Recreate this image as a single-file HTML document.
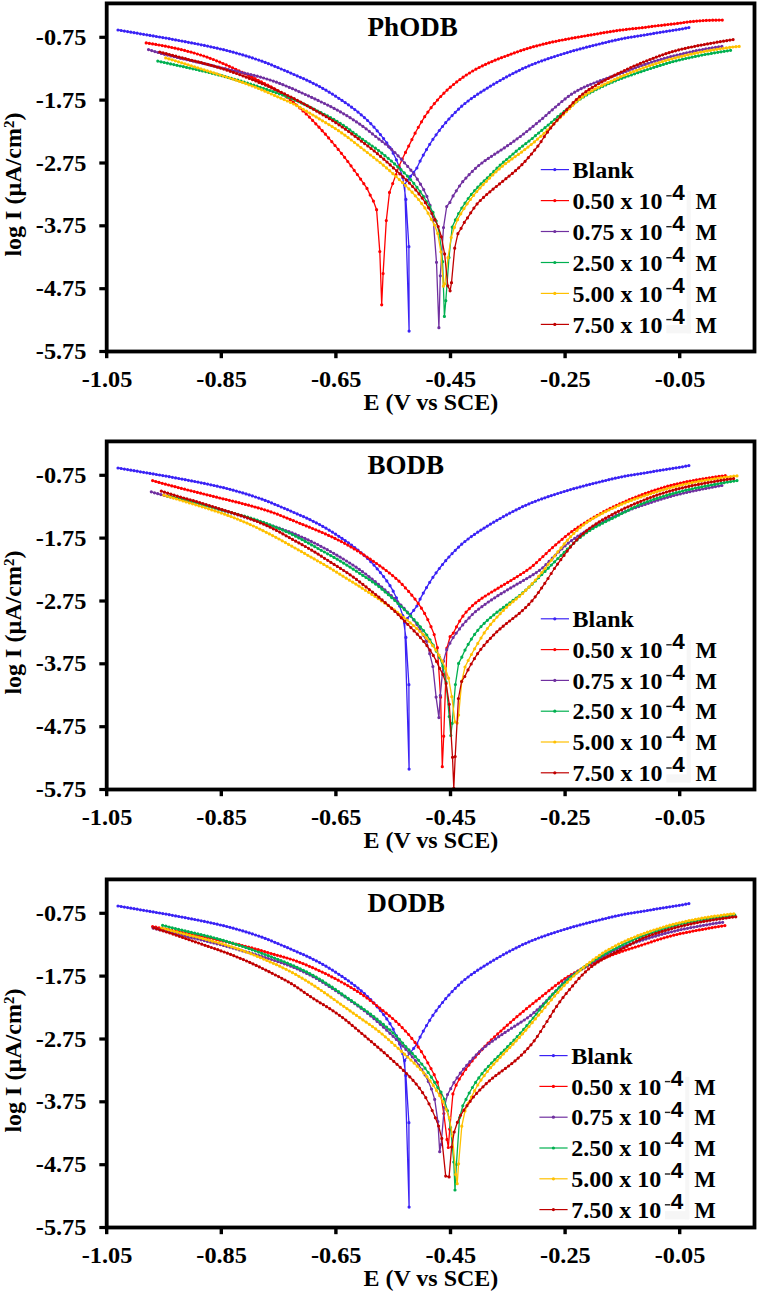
<!DOCTYPE html>
<html><head><meta charset="utf-8"><title>Tafel plots</title>
<style>
html,body{margin:0;padding:0;background:#fff;}
svg{display:block}
.t{font-family:"Liberation Serif",serif;font-weight:bold;font-size:24px;fill:#000}
.s{font-family:"Liberation Sans",sans-serif;font-weight:bold;font-size:22.5px;fill:#000}
</style></head><body>
<svg width="759" height="1293" viewBox="0 0 759 1293">
<rect width="759" height="1293" fill="#fff"/>
<polyline points="118.0,30.0 121.2,30.5 124.4,31.1 127.6,31.6 130.8,32.2 134.0,32.7 137.2,33.2 140.4,33.8 143.6,34.3 146.8,34.8 150.0,35.4 153.2,35.9 156.4,36.5 159.6,37.0 162.8,37.6 166.0,38.1 169.2,38.7 172.4,39.3 175.6,39.9 178.8,40.5 182.0,41.1 185.2,41.7 188.4,42.3 191.6,42.9 194.8,43.5 198.0,44.1 201.2,44.8 204.4,45.4 207.6,46.1 210.8,46.8 214.0,47.5 217.2,48.2 220.4,49.0 223.6,49.7 226.8,50.5 230.0,51.3 233.2,52.2 236.4,53.1 239.6,54.0 242.8,54.9 246.0,55.9 249.2,56.9 252.4,57.9 255.6,59.0 258.8,60.1 262.0,61.2 265.2,62.4 268.4,63.7 271.6,64.9 274.8,66.3 278.0,67.6 281.2,69.0 284.4,70.3 287.6,71.7 290.8,73.1 294.0,74.5 297.2,75.9 300.4,77.3 303.6,78.7 306.8,80.2 310.0,81.7 313.2,83.3 316.4,84.9 319.6,86.6 322.8,88.4 326.0,90.2 329.2,92.2 332.4,94.1 335.6,96.2 338.8,98.3 342.0,100.4 345.2,102.6 348.4,104.8 351.6,107.2 354.8,109.6 358.0,112.1 361.2,114.8 364.4,117.6 367.6,120.5 370.8,123.7 374.0,127.1 377.2,130.8 380.4,134.6 383.6,138.6 386.8,142.9 390.0,147.7 393.2,153.2 396.4,159.8 399.6,167.9 402.8,177.7 405.9,199.4 408.9,246.7 409.1,331.1 404.7,184.5 407.3,180.5 410.5,176.3 413.7,172.3 416.9,168.0 420.1,161.1 423.3,155.1 426.5,149.6 429.7,144.3 432.9,139.3 436.1,134.8 439.3,130.5 442.5,126.5 445.7,122.7 448.9,119.0 452.1,115.6 455.3,112.3 458.5,109.2 461.7,106.2 464.9,103.5 468.1,101.0 471.3,98.6 474.5,96.4 477.7,94.2 480.9,92.1 484.1,90.1 487.3,88.1 490.5,86.1 493.7,84.2 496.9,82.3 500.1,80.5 503.3,78.7 506.5,76.9 509.7,75.2 512.9,73.5 516.1,71.9 519.3,70.3 522.5,68.7 525.7,67.3 528.9,65.9 532.1,64.5 535.3,63.3 538.5,62.0 541.7,60.9 544.9,59.8 548.1,58.7 551.3,57.6 554.5,56.6 557.7,55.5 560.9,54.5 564.1,53.5 567.3,52.6 570.5,51.6 573.7,50.7 576.9,49.8 580.1,48.9 583.3,48.1 586.5,47.2 589.7,46.4 592.9,45.6 596.1,44.8 599.3,44.0 602.5,43.2 605.7,42.5 608.9,41.7 612.1,40.9 615.3,40.2 618.5,39.5 621.7,38.8 624.9,38.2 628.1,37.6 631.3,37.1 634.5,36.6 637.7,36.1 640.9,35.6 644.1,35.1 647.3,34.5 650.5,34.0 653.7,33.4 656.9,32.8 660.1,32.3 663.3,31.8 666.5,31.3 669.7,30.8 672.9,30.3 676.1,29.8 679.3,29.3 682.5,28.8 685.7,28.2 688.9,27.6" fill="none" stroke="#3a22f5" stroke-width="1.3" stroke-linejoin="round"/>
<path d="M118.0,30.0h0M121.2,30.5h0M124.4,31.1h0M127.6,31.6h0M130.8,32.2h0M134.0,32.7h0M137.2,33.2h0M140.4,33.8h0M143.6,34.3h0M146.8,34.8h0M150.0,35.4h0M153.2,35.9h0M156.4,36.5h0M159.6,37.0h0M162.8,37.6h0M166.0,38.1h0M169.2,38.7h0M172.4,39.3h0M175.6,39.9h0M178.8,40.5h0M182.0,41.1h0M185.2,41.7h0M188.4,42.3h0M191.6,42.9h0M194.8,43.5h0M198.0,44.1h0M201.2,44.8h0M204.4,45.4h0M207.6,46.1h0M210.8,46.8h0M214.0,47.5h0M217.2,48.2h0M220.4,49.0h0M223.6,49.7h0M226.8,50.5h0M230.0,51.3h0M233.2,52.2h0M236.4,53.1h0M239.6,54.0h0M242.8,54.9h0M246.0,55.9h0M249.2,56.9h0M252.4,57.9h0M255.6,59.0h0M258.8,60.1h0M262.0,61.2h0M265.2,62.4h0M268.4,63.7h0M271.6,64.9h0M274.8,66.3h0M278.0,67.6h0M281.2,69.0h0M284.4,70.3h0M287.6,71.7h0M290.8,73.1h0M294.0,74.5h0M297.2,75.9h0M300.4,77.3h0M303.6,78.7h0M306.8,80.2h0M310.0,81.7h0M313.2,83.3h0M316.4,84.9h0M319.6,86.6h0M322.8,88.4h0M326.0,90.2h0M329.2,92.2h0M332.4,94.1h0M335.6,96.2h0M338.8,98.3h0M342.0,100.4h0M345.2,102.6h0M348.4,104.8h0M351.6,107.2h0M354.8,109.6h0M358.0,112.1h0M361.2,114.8h0M364.4,117.6h0M367.6,120.5h0M370.8,123.7h0M374.0,127.1h0M377.2,130.8h0M380.4,134.6h0M383.6,138.6h0M386.8,142.9h0M390.0,147.7h0M393.2,153.2h0M396.4,159.8h0M399.6,167.9h0M402.8,177.7h0M405.9,199.4h0M408.9,246.7h0M409.1,331.1h0M404.7,184.5h0M407.3,180.5h0M410.5,176.3h0M413.7,172.3h0M416.9,168.0h0M420.1,161.1h0M423.3,155.1h0M426.5,149.6h0M429.7,144.3h0M432.9,139.3h0M436.1,134.8h0M439.3,130.5h0M442.5,126.5h0M445.7,122.7h0M448.9,119.0h0M452.1,115.6h0M455.3,112.3h0M458.5,109.2h0M461.7,106.2h0M464.9,103.5h0M468.1,101.0h0M471.3,98.6h0M474.5,96.4h0M477.7,94.2h0M480.9,92.1h0M484.1,90.1h0M487.3,88.1h0M490.5,86.1h0M493.7,84.2h0M496.9,82.3h0M500.1,80.5h0M503.3,78.7h0M506.5,76.9h0M509.7,75.2h0M512.9,73.5h0M516.1,71.9h0M519.3,70.3h0M522.5,68.7h0M525.7,67.3h0M528.9,65.9h0M532.1,64.5h0M535.3,63.3h0M538.5,62.0h0M541.7,60.9h0M544.9,59.8h0M548.1,58.7h0M551.3,57.6h0M554.5,56.6h0M557.7,55.5h0M560.9,54.5h0M564.1,53.5h0M567.3,52.6h0M570.5,51.6h0M573.7,50.7h0M576.9,49.8h0M580.1,48.9h0M583.3,48.1h0M586.5,47.2h0M589.7,46.4h0M592.9,45.6h0M596.1,44.8h0M599.3,44.0h0M602.5,43.2h0M605.7,42.5h0M608.9,41.7h0M612.1,40.9h0M615.3,40.2h0M618.5,39.5h0M621.7,38.8h0M624.9,38.2h0M628.1,37.6h0M631.3,37.1h0M634.5,36.6h0M637.7,36.1h0M640.9,35.6h0M644.1,35.1h0M647.3,34.5h0M650.5,34.0h0M653.7,33.4h0M656.9,32.8h0M660.1,32.3h0M663.3,31.8h0M666.5,31.3h0M669.7,30.8h0M672.9,30.3h0M676.1,29.8h0M679.3,29.3h0M682.5,28.8h0M685.7,28.2h0M688.9,27.6h0" stroke="#3a22f5" stroke-width="3.2" stroke-linecap="round" fill="none"/>
<polyline points="146.2,42.9 149.4,43.4 152.6,43.9 155.8,44.4 159.0,45.0 162.2,45.6 165.4,46.2 168.6,46.8 171.8,47.5 175.0,48.2 178.2,48.9 181.4,49.7 184.6,50.4 187.8,51.3 191.0,52.1 194.2,53.0 197.4,54.0 200.6,55.0 203.8,56.0 207.0,57.1 210.2,58.3 213.4,59.5 216.6,60.8 219.8,62.1 223.0,63.5 226.2,64.9 229.4,66.3 232.6,67.8 235.8,69.3 239.0,70.8 242.2,72.4 245.4,73.9 248.6,75.5 251.8,77.1 255.0,78.7 258.2,80.3 261.4,81.9 264.6,83.5 267.8,85.2 271.0,86.9 274.2,88.7 277.4,90.6 280.6,92.7 283.8,94.9 287.0,97.2 290.2,99.6 293.4,102.2 296.6,105.0 299.8,107.9 303.0,110.9 306.2,113.9 309.4,117.1 312.6,120.4 315.8,123.8 319.0,127.2 322.2,130.7 325.4,134.2 328.6,137.9 331.8,141.7 335.0,145.5 338.2,149.4 341.4,153.3 344.6,157.3 347.8,161.5 351.0,165.8 354.2,170.3 357.4,174.6 360.6,179.1 363.8,183.7 367.0,188.4 370.2,195.1 373.4,201.1 376.6,209.7 379.8,251.6 381.7,304.8 383.1,273.6 386.3,220.6 389.5,192.4 392.7,183.6 395.9,174.8 399.1,166.1 402.3,159.1 405.5,152.4 408.7,146.1 411.9,139.6 415.1,133.2 418.3,127.3 421.5,121.8 424.7,116.7 427.9,112.1 431.1,107.7 434.3,103.7 437.5,100.0 440.7,96.5 443.9,93.2 447.1,90.1 450.3,87.2 453.5,84.5 456.7,81.9 459.9,79.5 463.1,77.2 466.3,75.0 469.5,73.0 472.7,71.0 475.9,69.2 479.1,67.5 482.3,65.9 485.5,64.4 488.7,62.9 491.9,61.6 495.1,60.2 498.3,58.9 501.5,57.7 504.7,56.5 507.9,55.3 511.1,54.1 514.3,52.9 517.5,51.8 520.7,50.7 523.9,49.7 527.1,48.6 530.3,47.7 533.5,46.7 536.7,45.9 539.9,45.0 543.1,44.2 546.3,43.4 549.5,42.7 552.7,41.9 555.9,41.3 559.1,40.6 562.3,40.0 565.5,39.4 568.7,38.8 571.9,38.2 575.1,37.7 578.3,37.1 581.5,36.5 584.7,36.0 587.9,35.4 591.1,34.9 594.3,34.3 597.5,33.8 600.7,33.2 603.9,32.7 607.1,32.2 610.3,31.7 613.5,31.2 616.7,30.7 619.9,30.2 623.1,29.8 626.3,29.4 629.5,29.0 632.7,28.7 635.9,28.4 639.1,28.0 642.3,27.7 645.5,27.3 648.7,26.8 651.9,26.4 655.1,26.0 658.3,25.6 661.5,25.3 664.7,24.9 667.9,24.5 671.1,24.2 674.3,23.8 677.5,23.4 680.7,23.0 683.9,22.5 687.1,22.1 690.3,21.7 693.5,21.4 696.7,21.1 699.9,20.8 703.1,20.6 706.3,20.4 709.5,20.3 712.7,20.2 715.9,20.2 719.1,20.1 722.3,20.1" fill="none" stroke="#ff0000" stroke-width="1.3" stroke-linejoin="round"/>
<path d="M146.2,42.9h0M149.4,43.4h0M152.6,43.9h0M155.8,44.4h0M159.0,45.0h0M162.2,45.6h0M165.4,46.2h0M168.6,46.8h0M171.8,47.5h0M175.0,48.2h0M178.2,48.9h0M181.4,49.7h0M184.6,50.4h0M187.8,51.3h0M191.0,52.1h0M194.2,53.0h0M197.4,54.0h0M200.6,55.0h0M203.8,56.0h0M207.0,57.1h0M210.2,58.3h0M213.4,59.5h0M216.6,60.8h0M219.8,62.1h0M223.0,63.5h0M226.2,64.9h0M229.4,66.3h0M232.6,67.8h0M235.8,69.3h0M239.0,70.8h0M242.2,72.4h0M245.4,73.9h0M248.6,75.5h0M251.8,77.1h0M255.0,78.7h0M258.2,80.3h0M261.4,81.9h0M264.6,83.5h0M267.8,85.2h0M271.0,86.9h0M274.2,88.7h0M277.4,90.6h0M280.6,92.7h0M283.8,94.9h0M287.0,97.2h0M290.2,99.6h0M293.4,102.2h0M296.6,105.0h0M299.8,107.9h0M303.0,110.9h0M306.2,113.9h0M309.4,117.1h0M312.6,120.4h0M315.8,123.8h0M319.0,127.2h0M322.2,130.7h0M325.4,134.2h0M328.6,137.9h0M331.8,141.7h0M335.0,145.5h0M338.2,149.4h0M341.4,153.3h0M344.6,157.3h0M347.8,161.5h0M351.0,165.8h0M354.2,170.3h0M357.4,174.6h0M360.6,179.1h0M363.8,183.7h0M367.0,188.4h0M370.2,195.1h0M373.4,201.1h0M376.6,209.7h0M379.8,251.6h0M381.7,304.8h0M383.1,273.6h0M386.3,220.6h0M389.5,192.4h0M392.7,183.6h0M395.9,174.8h0M399.1,166.1h0M402.3,159.1h0M405.5,152.4h0M408.7,146.1h0M411.9,139.6h0M415.1,133.2h0M418.3,127.3h0M421.5,121.8h0M424.7,116.7h0M427.9,112.1h0M431.1,107.7h0M434.3,103.7h0M437.5,100.0h0M440.7,96.5h0M443.9,93.2h0M447.1,90.1h0M450.3,87.2h0M453.5,84.5h0M456.7,81.9h0M459.9,79.5h0M463.1,77.2h0M466.3,75.0h0M469.5,73.0h0M472.7,71.0h0M475.9,69.2h0M479.1,67.5h0M482.3,65.9h0M485.5,64.4h0M488.7,62.9h0M491.9,61.6h0M495.1,60.2h0M498.3,58.9h0M501.5,57.7h0M504.7,56.5h0M507.9,55.3h0M511.1,54.1h0M514.3,52.9h0M517.5,51.8h0M520.7,50.7h0M523.9,49.7h0M527.1,48.6h0M530.3,47.7h0M533.5,46.7h0M536.7,45.9h0M539.9,45.0h0M543.1,44.2h0M546.3,43.4h0M549.5,42.7h0M552.7,41.9h0M555.9,41.3h0M559.1,40.6h0M562.3,40.0h0M565.5,39.4h0M568.7,38.8h0M571.9,38.2h0M575.1,37.7h0M578.3,37.1h0M581.5,36.5h0M584.7,36.0h0M587.9,35.4h0M591.1,34.9h0M594.3,34.3h0M597.5,33.8h0M600.7,33.2h0M603.9,32.7h0M607.1,32.2h0M610.3,31.7h0M613.5,31.2h0M616.7,30.7h0M619.9,30.2h0M623.1,29.8h0M626.3,29.4h0M629.5,29.0h0M632.7,28.7h0M635.9,28.4h0M639.1,28.0h0M642.3,27.7h0M645.5,27.3h0M648.7,26.8h0M651.9,26.4h0M655.1,26.0h0M658.3,25.6h0M661.5,25.3h0M664.7,24.9h0M667.9,24.5h0M671.1,24.2h0M674.3,23.8h0M677.5,23.4h0M680.7,23.0h0M683.9,22.5h0M687.1,22.1h0M690.3,21.7h0M693.5,21.4h0M696.7,21.1h0M699.9,20.8h0M703.1,20.6h0M706.3,20.4h0M709.5,20.3h0M712.7,20.2h0M715.9,20.2h0M719.1,20.1h0M722.3,20.1h0" stroke="#ff0000" stroke-width="3.2" stroke-linecap="round" fill="none"/>
<polyline points="148.5,49.6 151.7,50.6 154.9,51.6 158.1,52.5 161.3,53.4 164.5,54.3 167.7,55.1 170.9,55.9 174.1,56.7 177.3,57.5 180.5,58.3 183.7,59.0 186.9,59.7 190.1,60.5 193.3,61.2 196.5,61.9 199.7,62.6 202.9,63.4 206.1,64.1 209.3,64.9 212.5,65.7 215.7,66.5 218.9,67.2 222.1,68.0 225.3,68.7 228.5,69.5 231.7,70.2 234.9,70.9 238.1,71.6 241.3,72.3 244.5,73.1 247.7,73.8 250.9,74.6 254.1,75.4 257.3,76.2 260.5,77.1 263.7,78.0 266.9,79.0 270.1,80.0 273.3,81.1 276.5,82.2 279.7,83.4 282.9,84.7 286.1,86.0 289.3,87.4 292.5,88.7 295.7,90.1 298.9,91.6 302.1,93.0 305.3,94.5 308.5,95.9 311.7,97.4 314.9,98.9 318.1,100.4 321.3,102.0 324.5,103.5 327.7,105.1 330.9,106.7 334.1,108.4 337.3,110.1 340.5,111.9 343.7,113.8 346.9,115.7 350.1,117.7 353.3,119.8 356.5,121.9 359.7,124.1 362.9,126.4 366.1,128.8 369.3,131.3 372.5,133.9 375.7,136.5 378.9,139.1 382.1,141.5 385.3,144.0 388.5,146.6 391.7,149.4 394.9,152.5 398.1,155.8 401.3,159.2 404.5,162.8 407.7,166.4 410.9,170.2 414.1,174.4 417.3,179.2 420.5,184.2 423.7,189.7 426.9,196.4 430.1,205.3 433.3,220.5 436.5,262.3 438.9,327.7 440.3,275.8 443.5,227.6 446.7,206.5 449.9,202.4 453.1,195.9 456.3,190.8 459.5,186.0 462.7,181.7 465.9,178.1 469.1,174.7 472.3,171.4 475.5,168.3 478.7,165.5 481.9,163.0 485.1,160.6 488.3,158.4 491.5,156.3 494.7,154.2 497.9,152.1 501.1,150.0 504.3,147.9 507.5,145.7 510.7,143.5 513.9,141.2 517.1,138.8 520.3,136.5 523.5,134.0 526.7,131.5 529.9,128.9 533.1,126.3 536.3,123.7 539.5,121.0 542.7,118.3 545.9,115.5 549.1,112.6 552.3,109.8 555.5,107.0 558.7,104.3 561.9,101.5 565.1,98.9 568.3,96.4 571.5,94.2 574.7,92.2 577.9,90.3 581.1,88.7 584.3,87.1 587.5,85.7 590.7,84.3 593.9,83.0 597.1,81.8 600.3,80.6 603.5,79.5 606.7,78.3 609.9,77.2 613.1,76.1 616.3,75.0 619.5,73.8 622.7,72.7 625.9,71.5 629.1,70.3 632.3,69.1 635.5,67.9 638.7,66.6 641.9,65.5 645.1,64.4 648.3,63.3 651.5,62.2 654.7,61.2 657.9,60.3 661.1,59.3 664.3,58.4 667.5,57.5 670.7,56.7 673.9,55.9 677.1,55.1 680.3,54.3 683.5,53.5 686.7,52.8 689.9,52.1 693.1,51.4 696.3,50.7 699.5,50.1 702.7,49.5 705.9,48.9 709.1,48.3 712.3,47.8 715.5,47.3 718.7,46.8 721.9,46.3" fill="none" stroke="#7030a0" stroke-width="1.3" stroke-linejoin="round"/>
<path d="M148.5,49.6h0M151.7,50.6h0M154.9,51.6h0M158.1,52.5h0M161.3,53.4h0M164.5,54.3h0M167.7,55.1h0M170.9,55.9h0M174.1,56.7h0M177.3,57.5h0M180.5,58.3h0M183.7,59.0h0M186.9,59.7h0M190.1,60.5h0M193.3,61.2h0M196.5,61.9h0M199.7,62.6h0M202.9,63.4h0M206.1,64.1h0M209.3,64.9h0M212.5,65.7h0M215.7,66.5h0M218.9,67.2h0M222.1,68.0h0M225.3,68.7h0M228.5,69.5h0M231.7,70.2h0M234.9,70.9h0M238.1,71.6h0M241.3,72.3h0M244.5,73.1h0M247.7,73.8h0M250.9,74.6h0M254.1,75.4h0M257.3,76.2h0M260.5,77.1h0M263.7,78.0h0M266.9,79.0h0M270.1,80.0h0M273.3,81.1h0M276.5,82.2h0M279.7,83.4h0M282.9,84.7h0M286.1,86.0h0M289.3,87.4h0M292.5,88.7h0M295.7,90.1h0M298.9,91.6h0M302.1,93.0h0M305.3,94.5h0M308.5,95.9h0M311.7,97.4h0M314.9,98.9h0M318.1,100.4h0M321.3,102.0h0M324.5,103.5h0M327.7,105.1h0M330.9,106.7h0M334.1,108.4h0M337.3,110.1h0M340.5,111.9h0M343.7,113.8h0M346.9,115.7h0M350.1,117.7h0M353.3,119.8h0M356.5,121.9h0M359.7,124.1h0M362.9,126.4h0M366.1,128.8h0M369.3,131.3h0M372.5,133.9h0M375.7,136.5h0M378.9,139.1h0M382.1,141.5h0M385.3,144.0h0M388.5,146.6h0M391.7,149.4h0M394.9,152.5h0M398.1,155.8h0M401.3,159.2h0M404.5,162.8h0M407.7,166.4h0M410.9,170.2h0M414.1,174.4h0M417.3,179.2h0M420.5,184.2h0M423.7,189.7h0M426.9,196.4h0M430.1,205.3h0M433.3,220.5h0M436.5,262.3h0M438.9,327.7h0M440.3,275.8h0M443.5,227.6h0M446.7,206.5h0M449.9,202.4h0M453.1,195.9h0M456.3,190.8h0M459.5,186.0h0M462.7,181.7h0M465.9,178.1h0M469.1,174.7h0M472.3,171.4h0M475.5,168.3h0M478.7,165.5h0M481.9,163.0h0M485.1,160.6h0M488.3,158.4h0M491.5,156.3h0M494.7,154.2h0M497.9,152.1h0M501.1,150.0h0M504.3,147.9h0M507.5,145.7h0M510.7,143.5h0M513.9,141.2h0M517.1,138.8h0M520.3,136.5h0M523.5,134.0h0M526.7,131.5h0M529.9,128.9h0M533.1,126.3h0M536.3,123.7h0M539.5,121.0h0M542.7,118.3h0M545.9,115.5h0M549.1,112.6h0M552.3,109.8h0M555.5,107.0h0M558.7,104.3h0M561.9,101.5h0M565.1,98.9h0M568.3,96.4h0M571.5,94.2h0M574.7,92.2h0M577.9,90.3h0M581.1,88.7h0M584.3,87.1h0M587.5,85.7h0M590.7,84.3h0M593.9,83.0h0M597.1,81.8h0M600.3,80.6h0M603.5,79.5h0M606.7,78.3h0M609.9,77.2h0M613.1,76.1h0M616.3,75.0h0M619.5,73.8h0M622.7,72.7h0M625.9,71.5h0M629.1,70.3h0M632.3,69.1h0M635.5,67.9h0M638.7,66.6h0M641.9,65.5h0M645.1,64.4h0M648.3,63.3h0M651.5,62.2h0M654.7,61.2h0M657.9,60.3h0M661.1,59.3h0M664.3,58.4h0M667.5,57.5h0M670.7,56.7h0M673.9,55.9h0M677.1,55.1h0M680.3,54.3h0M683.5,53.5h0M686.7,52.8h0M689.9,52.1h0M693.1,51.4h0M696.3,50.7h0M699.5,50.1h0M702.7,49.5h0M705.9,48.9h0M709.1,48.3h0M712.3,47.8h0M715.5,47.3h0M718.7,46.8h0M721.9,46.3h0" stroke="#7030a0" stroke-width="3.2" stroke-linecap="round" fill="none"/>
<polyline points="157.8,61.1 161.0,61.8 164.2,62.5 167.4,63.2 170.6,63.9 173.8,64.6 177.0,65.3 180.2,66.0 183.4,66.7 186.6,67.4 189.8,68.1 193.0,68.8 196.2,69.5 199.4,70.3 202.6,71.0 205.8,71.7 209.0,72.5 212.2,73.3 215.4,74.1 218.6,74.9 221.8,75.7 225.0,76.6 228.2,77.5 231.4,78.4 234.6,79.3 237.8,80.2 241.0,81.2 244.2,82.2 247.4,83.2 250.6,84.2 253.8,85.2 257.0,86.2 260.2,87.3 263.4,88.3 266.6,89.4 269.8,90.5 273.0,91.6 276.2,92.7 279.4,93.8 282.6,95.0 285.8,96.2 289.0,97.5 292.2,98.8 295.4,100.2 298.6,101.6 301.8,103.1 305.0,104.6 308.2,106.2 311.4,107.8 314.6,109.4 317.8,111.0 321.0,112.6 324.2,114.3 327.4,115.9 330.6,117.7 333.8,119.4 337.0,121.3 340.2,123.3 343.4,125.4 346.6,127.6 349.8,129.9 353.0,132.3 356.2,134.7 359.4,137.0 362.6,139.3 365.8,141.6 369.0,143.8 372.2,146.0 375.4,148.2 378.6,150.6 381.8,153.1 385.0,155.7 388.2,158.3 391.4,161.0 394.6,163.9 397.8,166.8 401.0,169.7 404.2,172.8 407.4,176.1 410.6,179.6 413.8,183.3 417.0,187.3 420.2,191.6 423.4,196.4 426.6,201.5 429.8,206.7 433.0,212.4 436.2,221.0 439.4,233.8 442.6,261.7 444.4,316.4 445.8,300.7 449.0,257.5 452.2,227.1 455.4,219.9 458.6,213.5 461.8,208.0 465.0,203.1 468.2,198.5 471.4,194.4 474.6,190.7 477.8,187.2 481.0,183.9 484.2,180.8 487.4,177.8 490.6,174.7 493.8,171.4 497.0,168.1 500.2,165.1 503.4,162.2 506.6,159.5 509.8,156.8 513.0,154.0 516.2,151.2 519.4,148.6 522.6,146.1 525.8,143.6 529.0,141.1 532.2,138.5 535.4,135.7 538.6,133.0 541.8,130.3 545.0,127.7 548.2,125.0 551.4,122.3 554.6,119.5 557.8,116.7 561.0,114.1 564.2,111.4 567.4,108.9 570.6,106.3 573.8,103.7 577.0,101.3 580.2,99.0 583.4,96.9 586.6,94.9 589.8,93.0 593.0,91.3 596.2,89.6 599.4,88.0 602.6,86.5 605.8,85.0 609.0,83.5 612.2,82.2 615.4,80.8 618.6,79.5 621.8,78.3 625.0,77.1 628.2,76.0 631.4,74.9 634.6,73.8 637.8,72.7 641.0,71.7 644.2,70.6 647.4,69.5 650.6,68.5 653.8,67.4 657.0,66.4 660.2,65.4 663.4,64.4 666.6,63.4 669.8,62.5 673.0,61.6 676.2,60.8 679.4,60.0 682.6,59.2 685.8,58.5 689.0,57.8 692.2,57.1 695.4,56.4 698.6,55.8 701.8,55.1 705.0,54.5 708.2,54.0 711.4,53.4 714.6,52.8 717.8,52.3 721.0,51.8 724.2,51.3 727.4,50.8 730.6,50.3" fill="none" stroke="#00b050" stroke-width="1.3" stroke-linejoin="round"/>
<path d="M157.8,61.1h0M161.0,61.8h0M164.2,62.5h0M167.4,63.2h0M170.6,63.9h0M173.8,64.6h0M177.0,65.3h0M180.2,66.0h0M183.4,66.7h0M186.6,67.4h0M189.8,68.1h0M193.0,68.8h0M196.2,69.5h0M199.4,70.3h0M202.6,71.0h0M205.8,71.7h0M209.0,72.5h0M212.2,73.3h0M215.4,74.1h0M218.6,74.9h0M221.8,75.7h0M225.0,76.6h0M228.2,77.5h0M231.4,78.4h0M234.6,79.3h0M237.8,80.2h0M241.0,81.2h0M244.2,82.2h0M247.4,83.2h0M250.6,84.2h0M253.8,85.2h0M257.0,86.2h0M260.2,87.3h0M263.4,88.3h0M266.6,89.4h0M269.8,90.5h0M273.0,91.6h0M276.2,92.7h0M279.4,93.8h0M282.6,95.0h0M285.8,96.2h0M289.0,97.5h0M292.2,98.8h0M295.4,100.2h0M298.6,101.6h0M301.8,103.1h0M305.0,104.6h0M308.2,106.2h0M311.4,107.8h0M314.6,109.4h0M317.8,111.0h0M321.0,112.6h0M324.2,114.3h0M327.4,115.9h0M330.6,117.7h0M333.8,119.4h0M337.0,121.3h0M340.2,123.3h0M343.4,125.4h0M346.6,127.6h0M349.8,129.9h0M353.0,132.3h0M356.2,134.7h0M359.4,137.0h0M362.6,139.3h0M365.8,141.6h0M369.0,143.8h0M372.2,146.0h0M375.4,148.2h0M378.6,150.6h0M381.8,153.1h0M385.0,155.7h0M388.2,158.3h0M391.4,161.0h0M394.6,163.9h0M397.8,166.8h0M401.0,169.7h0M404.2,172.8h0M407.4,176.1h0M410.6,179.6h0M413.8,183.3h0M417.0,187.3h0M420.2,191.6h0M423.4,196.4h0M426.6,201.5h0M429.8,206.7h0M433.0,212.4h0M436.2,221.0h0M439.4,233.8h0M442.6,261.7h0M444.4,316.4h0M445.8,300.7h0M449.0,257.5h0M452.2,227.1h0M455.4,219.9h0M458.6,213.5h0M461.8,208.0h0M465.0,203.1h0M468.2,198.5h0M471.4,194.4h0M474.6,190.7h0M477.8,187.2h0M481.0,183.9h0M484.2,180.8h0M487.4,177.8h0M490.6,174.7h0M493.8,171.4h0M497.0,168.1h0M500.2,165.1h0M503.4,162.2h0M506.6,159.5h0M509.8,156.8h0M513.0,154.0h0M516.2,151.2h0M519.4,148.6h0M522.6,146.1h0M525.8,143.6h0M529.0,141.1h0M532.2,138.5h0M535.4,135.7h0M538.6,133.0h0M541.8,130.3h0M545.0,127.7h0M548.2,125.0h0M551.4,122.3h0M554.6,119.5h0M557.8,116.7h0M561.0,114.1h0M564.2,111.4h0M567.4,108.9h0M570.6,106.3h0M573.8,103.7h0M577.0,101.3h0M580.2,99.0h0M583.4,96.9h0M586.6,94.9h0M589.8,93.0h0M593.0,91.3h0M596.2,89.6h0M599.4,88.0h0M602.6,86.5h0M605.8,85.0h0M609.0,83.5h0M612.2,82.2h0M615.4,80.8h0M618.6,79.5h0M621.8,78.3h0M625.0,77.1h0M628.2,76.0h0M631.4,74.9h0M634.6,73.8h0M637.8,72.7h0M641.0,71.7h0M644.2,70.6h0M647.4,69.5h0M650.6,68.5h0M653.8,67.4h0M657.0,66.4h0M660.2,65.4h0M663.4,64.4h0M666.6,63.4h0M669.8,62.5h0M673.0,61.6h0M676.2,60.8h0M679.4,60.0h0M682.6,59.2h0M685.8,58.5h0M689.0,57.8h0M692.2,57.1h0M695.4,56.4h0M698.6,55.8h0M701.8,55.1h0M705.0,54.5h0M708.2,54.0h0M711.4,53.4h0M714.6,52.8h0M717.8,52.3h0M721.0,51.8h0M724.2,51.3h0M727.4,50.8h0M730.6,50.3h0" stroke="#00b050" stroke-width="3.2" stroke-linecap="round" fill="none"/>
<polyline points="165.7,57.9 168.9,58.9 172.1,59.8 175.3,60.8 178.5,61.8 181.7,62.8 184.9,63.8 188.1,64.8 191.3,65.8 194.5,66.8 197.7,67.8 200.9,68.8 204.1,69.9 207.3,70.9 210.5,71.9 213.7,72.9 216.9,73.9 220.1,75.0 223.3,76.0 226.5,77.0 229.7,78.0 232.9,79.1 236.1,80.2 239.3,81.3 242.5,82.4 245.7,83.6 248.9,84.8 252.1,86.0 255.3,87.2 258.5,88.5 261.7,89.8 264.9,91.2 268.1,92.6 271.3,94.0 274.5,95.4 277.7,96.8 280.9,98.2 284.1,99.6 287.3,101.0 290.5,102.5 293.7,104.0 296.9,105.7 300.1,107.4 303.3,109.3 306.5,111.2 309.7,113.1 312.9,115.0 316.1,116.9 319.3,118.9 322.5,120.8 325.7,122.7 328.9,124.6 332.1,126.6 335.3,128.6 338.5,130.7 341.7,132.9 344.9,135.2 348.1,137.6 351.3,140.0 354.5,142.5 357.7,145.0 360.9,147.5 364.1,150.0 367.3,152.5 370.5,155.0 373.7,157.4 376.9,160.0 380.1,162.5 383.3,165.2 386.5,167.9 389.7,170.7 392.9,173.7 396.1,176.6 399.3,179.6 402.5,182.6 405.7,185.7 408.9,188.9 412.1,192.2 415.3,195.8 418.5,199.5 421.7,203.6 424.9,207.9 428.1,213.2 431.3,219.3 434.5,225.0 437.7,233.5 440.9,251.8 443.4,286.2 444.8,283.8 448.0,257.7 451.2,237.5 454.4,227.4 457.6,219.7 460.8,213.8 464.0,208.6 467.2,203.8 470.4,199.5 473.6,195.4 476.8,191.6 480.0,188.0 483.2,184.6 486.4,181.3 489.6,178.1 492.8,174.9 496.0,171.8 499.2,168.9 502.4,166.2 505.6,163.6 508.8,161.2 512.0,158.9 515.2,156.6 518.4,154.4 521.6,152.1 524.8,149.6 528.0,147.1 531.2,144.5 534.4,141.9 537.6,139.1 540.8,136.3 544.0,133.3 547.2,130.2 550.4,127.0 553.6,123.9 556.8,120.8 560.0,117.7 563.2,114.7 566.4,111.6 569.6,108.6 572.8,105.3 576.0,102.1 579.2,99.3 582.4,96.9 585.6,94.6 588.8,92.6 592.0,90.7 595.2,88.9 598.4,87.3 601.6,85.7 604.8,84.1 608.0,82.6 611.2,81.1 614.4,79.6 617.6,78.1 620.8,76.7 624.0,75.3 627.2,74.0 630.4,72.7 633.6,71.5 636.8,70.3 640.0,69.1 643.2,67.9 646.4,66.8 649.6,65.7 652.8,64.7 656.0,63.6 659.2,62.6 662.4,61.6 665.6,60.6 668.8,59.7 672.0,58.8 675.2,57.9 678.4,57.1 681.6,56.3 684.8,55.6 688.0,54.8 691.2,54.1 694.4,53.4 697.6,52.8 700.8,52.1 704.0,51.5 707.2,50.9 710.4,50.4 713.6,49.8 716.8,49.3 720.0,48.8 723.2,48.3 726.4,47.9 729.6,47.4 732.8,47.0 736.0,46.7 739.2,46.4" fill="none" stroke="#ffc000" stroke-width="1.3" stroke-linejoin="round"/>
<path d="M165.7,57.9h0M168.9,58.9h0M172.1,59.8h0M175.3,60.8h0M178.5,61.8h0M181.7,62.8h0M184.9,63.8h0M188.1,64.8h0M191.3,65.8h0M194.5,66.8h0M197.7,67.8h0M200.9,68.8h0M204.1,69.9h0M207.3,70.9h0M210.5,71.9h0M213.7,72.9h0M216.9,73.9h0M220.1,75.0h0M223.3,76.0h0M226.5,77.0h0M229.7,78.0h0M232.9,79.1h0M236.1,80.2h0M239.3,81.3h0M242.5,82.4h0M245.7,83.6h0M248.9,84.8h0M252.1,86.0h0M255.3,87.2h0M258.5,88.5h0M261.7,89.8h0M264.9,91.2h0M268.1,92.6h0M271.3,94.0h0M274.5,95.4h0M277.7,96.8h0M280.9,98.2h0M284.1,99.6h0M287.3,101.0h0M290.5,102.5h0M293.7,104.0h0M296.9,105.7h0M300.1,107.4h0M303.3,109.3h0M306.5,111.2h0M309.7,113.1h0M312.9,115.0h0M316.1,116.9h0M319.3,118.9h0M322.5,120.8h0M325.7,122.7h0M328.9,124.6h0M332.1,126.6h0M335.3,128.6h0M338.5,130.7h0M341.7,132.9h0M344.9,135.2h0M348.1,137.6h0M351.3,140.0h0M354.5,142.5h0M357.7,145.0h0M360.9,147.5h0M364.1,150.0h0M367.3,152.5h0M370.5,155.0h0M373.7,157.4h0M376.9,160.0h0M380.1,162.5h0M383.3,165.2h0M386.5,167.9h0M389.7,170.7h0M392.9,173.7h0M396.1,176.6h0M399.3,179.6h0M402.5,182.6h0M405.7,185.7h0M408.9,188.9h0M412.1,192.2h0M415.3,195.8h0M418.5,199.5h0M421.7,203.6h0M424.9,207.9h0M428.1,213.2h0M431.3,219.3h0M434.5,225.0h0M437.7,233.5h0M440.9,251.8h0M443.4,286.2h0M444.8,283.8h0M448.0,257.7h0M451.2,237.5h0M454.4,227.4h0M457.6,219.7h0M460.8,213.8h0M464.0,208.6h0M467.2,203.8h0M470.4,199.5h0M473.6,195.4h0M476.8,191.6h0M480.0,188.0h0M483.2,184.6h0M486.4,181.3h0M489.6,178.1h0M492.8,174.9h0M496.0,171.8h0M499.2,168.9h0M502.4,166.2h0M505.6,163.6h0M508.8,161.2h0M512.0,158.9h0M515.2,156.6h0M518.4,154.4h0M521.6,152.1h0M524.8,149.6h0M528.0,147.1h0M531.2,144.5h0M534.4,141.9h0M537.6,139.1h0M540.8,136.3h0M544.0,133.3h0M547.2,130.2h0M550.4,127.0h0M553.6,123.9h0M556.8,120.8h0M560.0,117.7h0M563.2,114.7h0M566.4,111.6h0M569.6,108.6h0M572.8,105.3h0M576.0,102.1h0M579.2,99.3h0M582.4,96.9h0M585.6,94.6h0M588.8,92.6h0M592.0,90.7h0M595.2,88.9h0M598.4,87.3h0M601.6,85.7h0M604.8,84.1h0M608.0,82.6h0M611.2,81.1h0M614.4,79.6h0M617.6,78.1h0M620.8,76.7h0M624.0,75.3h0M627.2,74.0h0M630.4,72.7h0M633.6,71.5h0M636.8,70.3h0M640.0,69.1h0M643.2,67.9h0M646.4,66.8h0M649.6,65.7h0M652.8,64.7h0M656.0,63.6h0M659.2,62.6h0M662.4,61.6h0M665.6,60.6h0M668.8,59.7h0M672.0,58.8h0M675.2,57.9h0M678.4,57.1h0M681.6,56.3h0M684.8,55.6h0M688.0,54.8h0M691.2,54.1h0M694.4,53.4h0M697.6,52.8h0M700.8,52.1h0M704.0,51.5h0M707.2,50.9h0M710.4,50.4h0M713.6,49.8h0M716.8,49.3h0M720.0,48.8h0M723.2,48.3h0M726.4,47.9h0M729.6,47.4h0M732.8,47.0h0M736.0,46.7h0M739.2,46.4h0" stroke="#ffc000" stroke-width="3.2" stroke-linecap="round" fill="none"/>
<polyline points="159.8,52.0 163.0,52.9 166.2,53.7 169.4,54.5 172.6,55.4 175.8,56.2 179.0,57.1 182.2,57.9 185.4,58.7 188.6,59.5 191.8,60.3 195.0,61.1 198.2,61.9 201.4,62.7 204.6,63.6 207.8,64.4 211.0,65.3 214.2,66.2 217.4,67.2 220.6,68.1 223.8,69.1 227.0,70.2 230.2,71.3 233.4,72.4 236.6,73.5 239.8,74.7 243.0,75.9 246.2,77.2 249.4,78.4 252.6,79.7 255.8,81.0 259.0,82.4 262.2,83.7 265.4,85.1 268.6,86.5 271.8,87.9 275.0,89.4 278.2,90.9 281.4,92.4 284.6,93.9 287.8,95.5 291.0,97.1 294.2,98.7 297.4,100.4 300.6,102.1 303.8,103.8 307.0,105.6 310.2,107.4 313.4,109.2 316.6,111.1 319.8,112.9 323.0,114.8 326.2,116.7 329.4,118.7 332.6,120.6 335.8,122.7 339.0,124.8 342.2,127.0 345.4,129.2 348.6,131.5 351.8,133.9 355.0,136.3 358.2,138.7 361.4,141.2 364.6,143.6 367.8,146.0 371.0,148.5 374.2,151.0 377.4,153.7 380.6,156.4 383.8,159.2 387.0,162.0 390.2,164.9 393.4,167.9 396.6,170.8 399.8,173.8 403.0,176.8 406.2,179.9 409.4,183.1 412.6,186.5 415.8,190.0 419.0,193.9 422.2,198.1 425.4,202.7 428.6,207.8 431.8,213.5 435.0,219.7 438.2,226.6 441.4,236.8 444.6,253.9 447.8,285.8 450.1,290.8 451.5,282.7 454.7,248.2 457.9,233.7 461.1,228.3 464.3,222.4 467.5,217.9 470.7,212.8 473.9,208.1 477.1,203.9 480.3,200.5 483.5,197.4 486.7,194.5 489.9,191.8 493.1,189.1 496.3,186.5 499.5,183.9 502.7,181.3 505.9,178.7 509.1,176.1 512.3,173.4 515.5,170.7 518.7,167.8 521.9,164.7 525.1,161.3 528.3,157.7 531.5,154.0 534.7,150.1 537.9,146.1 541.1,141.6 544.3,136.7 547.5,132.2 550.7,128.0 553.9,124.0 557.1,120.2 560.3,116.6 563.5,113.1 566.7,109.7 569.9,106.3 573.1,102.7 576.3,99.5 579.5,96.7 582.7,94.0 585.9,91.6 589.1,89.4 592.3,87.4 595.5,85.5 598.7,83.6 601.9,81.9 605.1,80.2 608.3,78.5 611.5,76.8 614.7,75.2 617.9,73.6 621.1,72.0 624.3,70.5 627.5,69.0 630.7,67.5 633.9,66.1 637.1,64.8 640.3,63.4 643.5,62.1 646.7,60.8 649.9,59.5 653.1,58.3 656.3,57.1 659.5,55.9 662.7,54.8 665.9,53.7 669.1,52.7 672.3,51.7 675.5,50.8 678.7,49.9 681.9,49.1 685.1,48.4 688.3,47.6 691.5,47.0 694.7,46.3 697.9,45.7 701.1,45.1 704.3,44.5 707.5,43.9 710.7,43.3 713.9,42.8 717.1,42.2 720.3,41.7 723.5,41.2 726.7,40.7 729.9,40.1 733.1,39.6" fill="none" stroke="#c00000" stroke-width="1.3" stroke-linejoin="round"/>
<path d="M159.8,52.0h0M163.0,52.9h0M166.2,53.7h0M169.4,54.5h0M172.6,55.4h0M175.8,56.2h0M179.0,57.1h0M182.2,57.9h0M185.4,58.7h0M188.6,59.5h0M191.8,60.3h0M195.0,61.1h0M198.2,61.9h0M201.4,62.7h0M204.6,63.6h0M207.8,64.4h0M211.0,65.3h0M214.2,66.2h0M217.4,67.2h0M220.6,68.1h0M223.8,69.1h0M227.0,70.2h0M230.2,71.3h0M233.4,72.4h0M236.6,73.5h0M239.8,74.7h0M243.0,75.9h0M246.2,77.2h0M249.4,78.4h0M252.6,79.7h0M255.8,81.0h0M259.0,82.4h0M262.2,83.7h0M265.4,85.1h0M268.6,86.5h0M271.8,87.9h0M275.0,89.4h0M278.2,90.9h0M281.4,92.4h0M284.6,93.9h0M287.8,95.5h0M291.0,97.1h0M294.2,98.7h0M297.4,100.4h0M300.6,102.1h0M303.8,103.8h0M307.0,105.6h0M310.2,107.4h0M313.4,109.2h0M316.6,111.1h0M319.8,112.9h0M323.0,114.8h0M326.2,116.7h0M329.4,118.7h0M332.6,120.6h0M335.8,122.7h0M339.0,124.8h0M342.2,127.0h0M345.4,129.2h0M348.6,131.5h0M351.8,133.9h0M355.0,136.3h0M358.2,138.7h0M361.4,141.2h0M364.6,143.6h0M367.8,146.0h0M371.0,148.5h0M374.2,151.0h0M377.4,153.7h0M380.6,156.4h0M383.8,159.2h0M387.0,162.0h0M390.2,164.9h0M393.4,167.9h0M396.6,170.8h0M399.8,173.8h0M403.0,176.8h0M406.2,179.9h0M409.4,183.1h0M412.6,186.5h0M415.8,190.0h0M419.0,193.9h0M422.2,198.1h0M425.4,202.7h0M428.6,207.8h0M431.8,213.5h0M435.0,219.7h0M438.2,226.6h0M441.4,236.8h0M444.6,253.9h0M447.8,285.8h0M450.1,290.8h0M451.5,282.7h0M454.7,248.2h0M457.9,233.7h0M461.1,228.3h0M464.3,222.4h0M467.5,217.9h0M470.7,212.8h0M473.9,208.1h0M477.1,203.9h0M480.3,200.5h0M483.5,197.4h0M486.7,194.5h0M489.9,191.8h0M493.1,189.1h0M496.3,186.5h0M499.5,183.9h0M502.7,181.3h0M505.9,178.7h0M509.1,176.1h0M512.3,173.4h0M515.5,170.7h0M518.7,167.8h0M521.9,164.7h0M525.1,161.3h0M528.3,157.7h0M531.5,154.0h0M534.7,150.1h0M537.9,146.1h0M541.1,141.6h0M544.3,136.7h0M547.5,132.2h0M550.7,128.0h0M553.9,124.0h0M557.1,120.2h0M560.3,116.6h0M563.5,113.1h0M566.7,109.7h0M569.9,106.3h0M573.1,102.7h0M576.3,99.5h0M579.5,96.7h0M582.7,94.0h0M585.9,91.6h0M589.1,89.4h0M592.3,87.4h0M595.5,85.5h0M598.7,83.6h0M601.9,81.9h0M605.1,80.2h0M608.3,78.5h0M611.5,76.8h0M614.7,75.2h0M617.9,73.6h0M621.1,72.0h0M624.3,70.5h0M627.5,69.0h0M630.7,67.5h0M633.9,66.1h0M637.1,64.8h0M640.3,63.4h0M643.5,62.1h0M646.7,60.8h0M649.9,59.5h0M653.1,58.3h0M656.3,57.1h0M659.5,55.9h0M662.7,54.8h0M665.9,53.7h0M669.1,52.7h0M672.3,51.7h0M675.5,50.8h0M678.7,49.9h0M681.9,49.1h0M685.1,48.4h0M688.3,47.6h0M691.5,47.0h0M694.7,46.3h0M697.9,45.7h0M701.1,45.1h0M704.3,44.5h0M707.5,43.9h0M710.7,43.3h0M713.9,42.8h0M717.1,42.2h0M720.3,41.7h0M723.5,41.2h0M726.7,40.7h0M729.9,40.1h0M733.1,39.6h0" stroke="#c00000" stroke-width="3.2" stroke-linecap="round" fill="none"/>
<rect x="106.7" y="3.4" width="647.8" height="348.1" fill="none" stroke="#000" stroke-width="3.8"/>
<rect x="99.3" y="35.7" width="6" height="3.2" fill="#000"/>
<text x="86.4" y="44.9" text-anchor="end" class="t" textLength="50.6" lengthAdjust="spacingAndGlyphs">-0.75</text>
<rect x="99.3" y="98.5" width="6" height="3.2" fill="#000"/>
<text x="86.4" y="107.7" text-anchor="end" class="t" textLength="50.6" lengthAdjust="spacingAndGlyphs">-1.75</text>
<rect x="99.3" y="161.4" width="6" height="3.2" fill="#000"/>
<text x="86.4" y="170.6" text-anchor="end" class="t" textLength="50.6" lengthAdjust="spacingAndGlyphs">-2.75</text>
<rect x="99.3" y="224.2" width="6" height="3.2" fill="#000"/>
<text x="86.4" y="233.4" text-anchor="end" class="t" textLength="50.6" lengthAdjust="spacingAndGlyphs">-3.75</text>
<rect x="99.3" y="287.1" width="6" height="3.2" fill="#000"/>
<text x="86.4" y="296.3" text-anchor="end" class="t" textLength="50.6" lengthAdjust="spacingAndGlyphs">-4.75</text>
<rect x="99.3" y="349.9" width="6" height="3.2" fill="#000"/>
<text x="86.4" y="359.1" text-anchor="end" class="t" textLength="50.6" lengthAdjust="spacingAndGlyphs">-5.75</text>
<rect x="105.0" y="352.0" width="3.4" height="6.2" fill="#000"/>
<text x="107.0" y="387.3" text-anchor="middle" class="t" textLength="50.6" lengthAdjust="spacingAndGlyphs">-1.05</text>
<rect x="219.6" y="352.0" width="3.4" height="6.2" fill="#000"/>
<text x="221.6" y="387.3" text-anchor="middle" class="t" textLength="50.6" lengthAdjust="spacingAndGlyphs">-0.85</text>
<rect x="334.2" y="352.0" width="3.4" height="6.2" fill="#000"/>
<text x="336.2" y="387.3" text-anchor="middle" class="t" textLength="50.6" lengthAdjust="spacingAndGlyphs">-0.65</text>
<rect x="448.8" y="352.0" width="3.4" height="6.2" fill="#000"/>
<text x="450.8" y="387.3" text-anchor="middle" class="t" textLength="50.6" lengthAdjust="spacingAndGlyphs">-0.45</text>
<rect x="563.4" y="352.0" width="3.4" height="6.2" fill="#000"/>
<text x="565.4" y="387.3" text-anchor="middle" class="t" textLength="50.6" lengthAdjust="spacingAndGlyphs">-0.25</text>
<rect x="678.0" y="352.0" width="3.4" height="6.2" fill="#000"/>
<text x="680.0" y="387.3" text-anchor="middle" class="t" textLength="50.6" lengthAdjust="spacingAndGlyphs">-0.05</text>
<text x="363.4" y="410.2" class="t">E (V vs SCE)</text>
<text transform="translate(21.2,256.6) rotate(-90)" class="t">log I (µA/cm<tspan dy="-6.8" style="font-size:15px">2</tspan><tspan dy="6.8">)</tspan></text>
<text x="367.6" y="36.1" class="t" style="font-size:27px" textLength="90.2" lengthAdjust="spacingAndGlyphs">PhODB</text>
<rect x="686.7" y="190.8" width="4" height="142.5" fill="#f6f6f6"/>
<rect x="666.4" y="325.2" width="24.3" height="8.1" fill="#f6f6f6"/>
<line x1="540.8" x2="569.0" y1="169.6" y2="169.6" stroke="#3a22f5" stroke-width="1.2"/>
<circle cx="554.8" cy="169.6" r="1.6" fill="#3a22f5"/>
<text x="572.6" y="177.7" class="t">Blank</text>
<line x1="540.8" x2="569.0" y1="200.6" y2="200.6" stroke="#ff0000" stroke-width="1.2"/>
<circle cx="554.8" cy="200.6" r="1.6" fill="#ff0000"/>
<text x="572.6" y="208.7" class="t">0.50 x 10</text>
<rect x="666.3" y="195.1" width="5.4" height="1.4" fill="#222"/>
<text x="672.2" y="199.9" class="s">4</text>
<text x="695.6" y="208.7" class="t" textLength="21.5" lengthAdjust="spacingAndGlyphs">M</text>
<line x1="540.8" x2="569.0" y1="231.5" y2="231.5" stroke="#7030a0" stroke-width="1.2"/>
<circle cx="554.8" cy="231.5" r="1.6" fill="#7030a0"/>
<text x="572.6" y="239.6" class="t">0.75 x 10</text>
<rect x="666.3" y="226.0" width="5.4" height="1.4" fill="#222"/>
<text x="672.2" y="230.8" class="s">4</text>
<text x="695.6" y="239.6" class="t" textLength="21.5" lengthAdjust="spacingAndGlyphs">M</text>
<line x1="540.8" x2="569.0" y1="262.5" y2="262.5" stroke="#00b050" stroke-width="1.2"/>
<circle cx="554.8" cy="262.5" r="1.6" fill="#00b050"/>
<text x="572.6" y="270.6" class="t">2.50 x 10</text>
<rect x="666.3" y="257.0" width="5.4" height="1.4" fill="#222"/>
<text x="672.2" y="261.8" class="s">4</text>
<text x="695.6" y="270.6" class="t" textLength="21.5" lengthAdjust="spacingAndGlyphs">M</text>
<line x1="540.8" x2="569.0" y1="293.4" y2="293.4" stroke="#ffc000" stroke-width="1.2"/>
<circle cx="554.8" cy="293.4" r="1.6" fill="#ffc000"/>
<text x="572.6" y="301.5" class="t">5.00 x 10</text>
<rect x="666.3" y="287.9" width="5.4" height="1.4" fill="#222"/>
<text x="672.2" y="292.7" class="s">4</text>
<text x="695.6" y="301.5" class="t" textLength="21.5" lengthAdjust="spacingAndGlyphs">M</text>
<line x1="540.8" x2="569.0" y1="324.4" y2="324.4" stroke="#c00000" stroke-width="1.2"/>
<circle cx="554.8" cy="324.4" r="1.6" fill="#c00000"/>
<text x="572.6" y="332.5" class="t">7.50 x 10</text>
<rect x="666.3" y="318.9" width="5.4" height="1.4" fill="#222"/>
<text x="672.2" y="323.7" class="s">4</text>
<text x="695.6" y="332.5" class="t" textLength="21.5" lengthAdjust="spacingAndGlyphs">M</text>
<polyline points="118.0,468.0 121.2,468.5 124.4,469.1 127.6,469.6 130.8,470.2 134.0,470.7 137.2,471.2 140.4,471.8 143.6,472.3 146.8,472.8 150.0,473.4 153.2,473.9 156.4,474.5 159.6,475.0 162.8,475.6 166.0,476.1 169.2,476.7 172.4,477.3 175.6,477.9 178.8,478.5 182.0,479.1 185.2,479.7 188.4,480.3 191.6,480.9 194.8,481.5 198.0,482.1 201.2,482.8 204.4,483.4 207.6,484.1 210.8,484.8 214.0,485.5 217.2,486.2 220.4,487.0 223.6,487.7 226.8,488.5 230.0,489.3 233.2,490.2 236.4,491.1 239.6,492.0 242.8,492.9 246.0,493.9 249.2,494.9 252.4,495.9 255.6,497.0 258.8,498.1 262.0,499.2 265.2,500.4 268.4,501.7 271.6,502.9 274.8,504.3 278.0,505.6 281.2,507.0 284.4,508.3 287.6,509.7 290.8,511.1 294.0,512.5 297.2,513.9 300.4,515.3 303.6,516.7 306.8,518.2 310.0,519.7 313.2,521.3 316.4,522.9 319.6,524.6 322.8,526.4 326.0,528.2 329.2,530.2 332.4,532.1 335.6,534.2 338.8,536.3 342.0,538.4 345.2,540.6 348.4,542.8 351.6,545.2 354.8,547.6 358.0,550.1 361.2,552.8 364.4,555.6 367.6,558.5 370.8,561.7 374.0,565.1 377.2,568.8 380.4,572.6 383.6,576.6 386.8,580.9 390.0,585.7 393.2,591.2 396.4,597.8 399.6,605.9 402.8,615.7 405.9,637.4 408.9,684.7 409.1,769.1 404.7,622.5 407.3,618.5 410.5,614.3 413.7,610.3 416.9,606.0 420.1,599.1 423.3,593.1 426.5,587.6 429.7,582.3 432.9,577.3 436.1,572.8 439.3,568.5 442.5,564.5 445.7,560.7 448.9,557.0 452.1,553.6 455.3,550.3 458.5,547.2 461.7,544.2 464.9,541.5 468.1,539.0 471.3,536.6 474.5,534.4 477.7,532.2 480.9,530.1 484.1,528.1 487.3,526.1 490.5,524.1 493.7,522.2 496.9,520.3 500.1,518.5 503.3,516.7 506.5,514.9 509.7,513.2 512.9,511.5 516.1,509.9 519.3,508.3 522.5,506.7 525.7,505.3 528.9,503.9 532.1,502.5 535.3,501.3 538.5,500.0 541.7,498.9 544.9,497.8 548.1,496.7 551.3,495.6 554.5,494.6 557.7,493.5 560.9,492.5 564.1,491.5 567.3,490.6 570.5,489.6 573.7,488.7 576.9,487.8 580.1,486.9 583.3,486.1 586.5,485.2 589.7,484.4 592.9,483.6 596.1,482.8 599.3,482.0 602.5,481.2 605.7,480.5 608.9,479.7 612.1,478.9 615.3,478.2 618.5,477.5 621.7,476.8 624.9,476.2 628.1,475.6 631.3,475.1 634.5,474.6 637.7,474.1 640.9,473.6 644.1,473.1 647.3,472.5 650.5,472.0 653.7,471.4 656.9,470.8 660.1,470.3 663.3,469.8 666.5,469.3 669.7,468.8 672.9,468.3 676.1,467.8 679.3,467.3 682.5,466.8 685.7,466.2 688.9,465.6" fill="none" stroke="#3a22f5" stroke-width="1.3" stroke-linejoin="round"/>
<path d="M118.0,468.0h0M121.2,468.5h0M124.4,469.1h0M127.6,469.6h0M130.8,470.2h0M134.0,470.7h0M137.2,471.2h0M140.4,471.8h0M143.6,472.3h0M146.8,472.8h0M150.0,473.4h0M153.2,473.9h0M156.4,474.5h0M159.6,475.0h0M162.8,475.6h0M166.0,476.1h0M169.2,476.7h0M172.4,477.3h0M175.6,477.9h0M178.8,478.5h0M182.0,479.1h0M185.2,479.7h0M188.4,480.3h0M191.6,480.9h0M194.8,481.5h0M198.0,482.1h0M201.2,482.8h0M204.4,483.4h0M207.6,484.1h0M210.8,484.8h0M214.0,485.5h0M217.2,486.2h0M220.4,487.0h0M223.6,487.7h0M226.8,488.5h0M230.0,489.3h0M233.2,490.2h0M236.4,491.1h0M239.6,492.0h0M242.8,492.9h0M246.0,493.9h0M249.2,494.9h0M252.4,495.9h0M255.6,497.0h0M258.8,498.1h0M262.0,499.2h0M265.2,500.4h0M268.4,501.7h0M271.6,502.9h0M274.8,504.3h0M278.0,505.6h0M281.2,507.0h0M284.4,508.3h0M287.6,509.7h0M290.8,511.1h0M294.0,512.5h0M297.2,513.9h0M300.4,515.3h0M303.6,516.7h0M306.8,518.2h0M310.0,519.7h0M313.2,521.3h0M316.4,522.9h0M319.6,524.6h0M322.8,526.4h0M326.0,528.2h0M329.2,530.2h0M332.4,532.1h0M335.6,534.2h0M338.8,536.3h0M342.0,538.4h0M345.2,540.6h0M348.4,542.8h0M351.6,545.2h0M354.8,547.6h0M358.0,550.1h0M361.2,552.8h0M364.4,555.6h0M367.6,558.5h0M370.8,561.7h0M374.0,565.1h0M377.2,568.8h0M380.4,572.6h0M383.6,576.6h0M386.8,580.9h0M390.0,585.7h0M393.2,591.2h0M396.4,597.8h0M399.6,605.9h0M402.8,615.7h0M405.9,637.4h0M408.9,684.7h0M409.1,769.1h0M404.7,622.5h0M407.3,618.5h0M410.5,614.3h0M413.7,610.3h0M416.9,606.0h0M420.1,599.1h0M423.3,593.1h0M426.5,587.6h0M429.7,582.3h0M432.9,577.3h0M436.1,572.8h0M439.3,568.5h0M442.5,564.5h0M445.7,560.7h0M448.9,557.0h0M452.1,553.6h0M455.3,550.3h0M458.5,547.2h0M461.7,544.2h0M464.9,541.5h0M468.1,539.0h0M471.3,536.6h0M474.5,534.4h0M477.7,532.2h0M480.9,530.1h0M484.1,528.1h0M487.3,526.1h0M490.5,524.1h0M493.7,522.2h0M496.9,520.3h0M500.1,518.5h0M503.3,516.7h0M506.5,514.9h0M509.7,513.2h0M512.9,511.5h0M516.1,509.9h0M519.3,508.3h0M522.5,506.7h0M525.7,505.3h0M528.9,503.9h0M532.1,502.5h0M535.3,501.3h0M538.5,500.0h0M541.7,498.9h0M544.9,497.8h0M548.1,496.7h0M551.3,495.6h0M554.5,494.6h0M557.7,493.5h0M560.9,492.5h0M564.1,491.5h0M567.3,490.6h0M570.5,489.6h0M573.7,488.7h0M576.9,487.8h0M580.1,486.9h0M583.3,486.1h0M586.5,485.2h0M589.7,484.4h0M592.9,483.6h0M596.1,482.8h0M599.3,482.0h0M602.5,481.2h0M605.7,480.5h0M608.9,479.7h0M612.1,478.9h0M615.3,478.2h0M618.5,477.5h0M621.7,476.8h0M624.9,476.2h0M628.1,475.6h0M631.3,475.1h0M634.5,474.6h0M637.7,474.1h0M640.9,473.6h0M644.1,473.1h0M647.3,472.5h0M650.5,472.0h0M653.7,471.4h0M656.9,470.8h0M660.1,470.3h0M663.3,469.8h0M666.5,469.3h0M669.7,468.8h0M672.9,468.3h0M676.1,467.8h0M679.3,467.3h0M682.5,466.8h0M685.7,466.2h0M688.9,465.6h0" stroke="#3a22f5" stroke-width="3.2" stroke-linecap="round" fill="none"/>
<polyline points="152.6,480.6 155.8,481.5 159.0,482.4 162.2,483.3 165.4,484.2 168.6,485.0 171.8,485.9 175.0,486.7 178.2,487.6 181.4,488.4 184.6,489.2 187.8,490.0 191.0,490.8 194.2,491.6 197.4,492.4 200.6,493.2 203.8,494.0 207.0,494.8 210.2,495.6 213.4,496.4 216.6,497.2 219.8,498.0 223.0,498.8 226.2,499.5 229.4,500.3 232.6,501.1 235.8,501.9 239.0,502.7 242.2,503.6 245.4,504.4 248.6,505.2 251.8,506.1 255.0,507.0 258.2,507.9 261.4,508.8 264.6,509.8 267.8,510.8 271.0,511.9 274.2,513.0 277.4,514.2 280.6,515.5 283.8,516.8 287.0,518.1 290.2,519.4 293.4,520.7 296.6,522.0 299.8,523.3 303.0,524.6 306.2,525.9 309.4,527.2 312.6,528.5 315.8,529.8 319.0,531.2 322.2,532.5 325.4,533.9 328.6,535.4 331.8,536.8 335.0,538.4 338.2,540.0 341.4,541.6 344.6,543.3 347.8,545.1 351.0,547.0 354.2,548.9 357.4,550.8 360.6,552.8 363.8,554.9 367.0,557.0 370.2,559.1 373.4,561.3 376.6,563.5 379.8,565.8 383.0,568.1 386.2,570.5 389.4,573.0 392.6,575.6 395.8,578.3 399.0,581.2 402.2,584.4 405.4,587.9 408.6,591.4 411.8,595.2 415.0,599.1 418.2,603.4 421.4,608.2 424.6,613.4 427.8,619.6 431.0,626.7 434.2,634.6 437.4,647.7 440.6,697.2 442.3,766.7 443.7,736.2 446.9,648.1 450.1,636.7 453.3,633.1 456.5,626.8 459.7,621.1 462.9,616.2 466.1,612.1 469.3,608.7 472.5,605.6 475.7,602.8 478.9,600.4 482.1,598.1 485.3,596.0 488.5,594.0 491.7,592.0 494.9,590.1 498.1,588.2 501.3,586.2 504.5,584.3 507.7,582.4 510.9,580.5 514.1,578.5 517.3,576.6 520.5,574.5 523.7,572.5 526.9,570.3 530.1,568.0 533.3,565.4 536.5,562.6 539.7,559.6 542.9,556.6 546.1,553.6 549.3,550.5 552.5,547.6 555.7,544.8 558.9,542.0 562.1,539.3 565.3,536.6 568.5,534.1 571.7,531.7 574.9,529.4 578.1,527.2 581.3,525.1 584.5,523.0 587.7,521.1 590.9,519.1 594.1,517.2 597.3,515.3 600.5,513.5 603.7,511.7 606.9,510.0 610.1,508.4 613.3,506.9 616.5,505.4 619.7,503.9 622.9,502.5 626.1,501.1 629.3,499.7 632.5,498.4 635.7,497.1 638.9,495.8 642.1,494.6 645.3,493.4 648.5,492.3 651.7,491.2 654.9,490.2 658.1,489.1 661.3,488.1 664.5,487.2 667.7,486.2 670.9,485.4 674.1,484.5 677.3,483.8 680.5,483.1 683.7,482.4 686.9,481.7 690.1,481.1 693.3,480.5 696.5,479.9 699.7,479.4 702.9,478.8 706.1,478.3 709.3,477.8 712.5,477.3 715.7,476.9 718.9,476.4 722.1,476.0 725.3,475.6" fill="none" stroke="#ff0000" stroke-width="1.3" stroke-linejoin="round"/>
<path d="M152.6,480.6h0M155.8,481.5h0M159.0,482.4h0M162.2,483.3h0M165.4,484.2h0M168.6,485.0h0M171.8,485.9h0M175.0,486.7h0M178.2,487.6h0M181.4,488.4h0M184.6,489.2h0M187.8,490.0h0M191.0,490.8h0M194.2,491.6h0M197.4,492.4h0M200.6,493.2h0M203.8,494.0h0M207.0,494.8h0M210.2,495.6h0M213.4,496.4h0M216.6,497.2h0M219.8,498.0h0M223.0,498.8h0M226.2,499.5h0M229.4,500.3h0M232.6,501.1h0M235.8,501.9h0M239.0,502.7h0M242.2,503.6h0M245.4,504.4h0M248.6,505.2h0M251.8,506.1h0M255.0,507.0h0M258.2,507.9h0M261.4,508.8h0M264.6,509.8h0M267.8,510.8h0M271.0,511.9h0M274.2,513.0h0M277.4,514.2h0M280.6,515.5h0M283.8,516.8h0M287.0,518.1h0M290.2,519.4h0M293.4,520.7h0M296.6,522.0h0M299.8,523.3h0M303.0,524.6h0M306.2,525.9h0M309.4,527.2h0M312.6,528.5h0M315.8,529.8h0M319.0,531.2h0M322.2,532.5h0M325.4,533.9h0M328.6,535.4h0M331.8,536.8h0M335.0,538.4h0M338.2,540.0h0M341.4,541.6h0M344.6,543.3h0M347.8,545.1h0M351.0,547.0h0M354.2,548.9h0M357.4,550.8h0M360.6,552.8h0M363.8,554.9h0M367.0,557.0h0M370.2,559.1h0M373.4,561.3h0M376.6,563.5h0M379.8,565.8h0M383.0,568.1h0M386.2,570.5h0M389.4,573.0h0M392.6,575.6h0M395.8,578.3h0M399.0,581.2h0M402.2,584.4h0M405.4,587.9h0M408.6,591.4h0M411.8,595.2h0M415.0,599.1h0M418.2,603.4h0M421.4,608.2h0M424.6,613.4h0M427.8,619.6h0M431.0,626.7h0M434.2,634.6h0M437.4,647.7h0M440.6,697.2h0M442.3,766.7h0M443.7,736.2h0M446.9,648.1h0M450.1,636.7h0M453.3,633.1h0M456.5,626.8h0M459.7,621.1h0M462.9,616.2h0M466.1,612.1h0M469.3,608.7h0M472.5,605.6h0M475.7,602.8h0M478.9,600.4h0M482.1,598.1h0M485.3,596.0h0M488.5,594.0h0M491.7,592.0h0M494.9,590.1h0M498.1,588.2h0M501.3,586.2h0M504.5,584.3h0M507.7,582.4h0M510.9,580.5h0M514.1,578.5h0M517.3,576.6h0M520.5,574.5h0M523.7,572.5h0M526.9,570.3h0M530.1,568.0h0M533.3,565.4h0M536.5,562.6h0M539.7,559.6h0M542.9,556.6h0M546.1,553.6h0M549.3,550.5h0M552.5,547.6h0M555.7,544.8h0M558.9,542.0h0M562.1,539.3h0M565.3,536.6h0M568.5,534.1h0M571.7,531.7h0M574.9,529.4h0M578.1,527.2h0M581.3,525.1h0M584.5,523.0h0M587.7,521.1h0M590.9,519.1h0M594.1,517.2h0M597.3,515.3h0M600.5,513.5h0M603.7,511.7h0M606.9,510.0h0M610.1,508.4h0M613.3,506.9h0M616.5,505.4h0M619.7,503.9h0M622.9,502.5h0M626.1,501.1h0M629.3,499.7h0M632.5,498.4h0M635.7,497.1h0M638.9,495.8h0M642.1,494.6h0M645.3,493.4h0M648.5,492.3h0M651.7,491.2h0M654.9,490.2h0M658.1,489.1h0M661.3,488.1h0M664.5,487.2h0M667.7,486.2h0M670.9,485.4h0M674.1,484.5h0M677.3,483.8h0M680.5,483.1h0M683.7,482.4h0M686.9,481.7h0M690.1,481.1h0M693.3,480.5h0M696.5,479.9h0M699.7,479.4h0M702.9,478.8h0M706.1,478.3h0M709.3,477.8h0M712.5,477.3h0M715.7,476.9h0M718.9,476.4h0M722.1,476.0h0M725.3,475.6h0" stroke="#ff0000" stroke-width="3.2" stroke-linecap="round" fill="none"/>
<polyline points="151.3,491.8 154.5,492.8 157.7,493.7 160.9,494.6 164.1,495.3 167.3,496.1 170.5,496.8 173.7,497.6 176.9,498.3 180.1,499.0 183.3,499.8 186.5,500.5 189.7,501.3 192.9,502.1 196.1,502.9 199.3,503.8 202.5,504.7 205.7,505.5 208.9,506.4 212.1,507.3 215.3,508.2 218.5,509.1 221.7,510.1 224.9,511.0 228.1,511.9 231.3,512.9 234.5,513.8 237.7,514.8 240.9,515.8 244.1,516.8 247.3,517.8 250.5,518.8 253.7,519.8 256.9,520.8 260.1,521.9 263.3,522.9 266.5,524.0 269.7,525.0 272.9,526.0 276.1,527.1 279.3,528.2 282.5,529.3 285.7,530.5 288.9,531.7 292.1,532.9 295.3,534.2 298.5,535.6 301.7,537.0 304.9,538.4 308.1,539.9 311.3,541.4 314.5,543.0 317.7,544.6 320.9,546.3 324.1,548.0 327.3,549.7 330.5,551.5 333.7,553.3 336.9,555.2 340.1,557.1 343.3,559.0 346.5,561.0 349.7,563.0 352.9,565.0 356.1,567.2 359.3,569.4 362.5,571.7 365.7,574.0 368.9,576.5 372.1,579.1 375.3,581.7 378.5,584.4 381.7,587.1 384.9,589.9 388.1,592.7 391.3,595.7 394.5,598.7 397.7,601.8 400.9,605.0 404.1,608.4 407.3,612.0 410.5,615.8 413.7,620.0 416.9,624.5 420.1,629.6 423.3,635.1 426.5,641.3 429.7,653.7 432.9,666.5 436.1,697.1 438.9,717.6 440.3,695.4 443.5,661.2 446.7,649.7 449.9,643.2 453.1,637.6 456.3,633.1 459.5,628.9 462.7,624.9 465.9,621.3 469.1,617.9 472.3,614.5 475.5,611.6 478.7,609.1 481.9,606.7 485.1,604.3 488.3,602.0 491.5,599.9 494.7,597.8 497.9,595.7 501.1,593.7 504.3,591.8 507.5,589.8 510.7,587.9 513.9,586.0 517.1,584.1 520.3,582.3 523.5,580.4 526.7,578.6 529.9,576.7 533.1,574.7 536.3,572.6 539.5,570.3 542.7,567.8 545.9,564.6 549.1,561.3 552.3,558.2 555.5,555.0 558.7,551.9 561.9,548.8 565.1,545.8 568.3,543.1 571.5,540.6 574.7,538.3 577.9,536.1 581.1,534.0 584.3,532.0 587.5,530.1 590.7,528.2 593.9,526.4 597.1,524.7 600.3,523.1 603.5,521.5 606.7,519.9 609.9,518.4 613.1,516.9 616.3,515.4 619.5,514.0 622.7,512.6 625.9,511.3 629.1,510.0 632.3,508.8 635.5,507.7 638.7,506.6 641.9,505.5 645.1,504.4 648.3,503.3 651.5,502.3 654.7,501.2 657.9,500.2 661.1,499.2 664.3,498.2 667.5,497.3 670.7,496.4 673.9,495.5 677.1,494.7 680.3,493.9 683.5,493.1 686.7,492.4 689.9,491.7 693.1,491.0 696.3,490.3 699.5,489.7 702.7,489.0 705.9,488.4 709.1,487.8 712.3,487.2 715.5,486.6 718.7,486.0 721.9,485.5" fill="none" stroke="#7030a0" stroke-width="1.3" stroke-linejoin="round"/>
<path d="M151.3,491.8h0M154.5,492.8h0M157.7,493.7h0M160.9,494.6h0M164.1,495.3h0M167.3,496.1h0M170.5,496.8h0M173.7,497.6h0M176.9,498.3h0M180.1,499.0h0M183.3,499.8h0M186.5,500.5h0M189.7,501.3h0M192.9,502.1h0M196.1,502.9h0M199.3,503.8h0M202.5,504.7h0M205.7,505.5h0M208.9,506.4h0M212.1,507.3h0M215.3,508.2h0M218.5,509.1h0M221.7,510.1h0M224.9,511.0h0M228.1,511.9h0M231.3,512.9h0M234.5,513.8h0M237.7,514.8h0M240.9,515.8h0M244.1,516.8h0M247.3,517.8h0M250.5,518.8h0M253.7,519.8h0M256.9,520.8h0M260.1,521.9h0M263.3,522.9h0M266.5,524.0h0M269.7,525.0h0M272.9,526.0h0M276.1,527.1h0M279.3,528.2h0M282.5,529.3h0M285.7,530.5h0M288.9,531.7h0M292.1,532.9h0M295.3,534.2h0M298.5,535.6h0M301.7,537.0h0M304.9,538.4h0M308.1,539.9h0M311.3,541.4h0M314.5,543.0h0M317.7,544.6h0M320.9,546.3h0M324.1,548.0h0M327.3,549.7h0M330.5,551.5h0M333.7,553.3h0M336.9,555.2h0M340.1,557.1h0M343.3,559.0h0M346.5,561.0h0M349.7,563.0h0M352.9,565.0h0M356.1,567.2h0M359.3,569.4h0M362.5,571.7h0M365.7,574.0h0M368.9,576.5h0M372.1,579.1h0M375.3,581.7h0M378.5,584.4h0M381.7,587.1h0M384.9,589.9h0M388.1,592.7h0M391.3,595.7h0M394.5,598.7h0M397.7,601.8h0M400.9,605.0h0M404.1,608.4h0M407.3,612.0h0M410.5,615.8h0M413.7,620.0h0M416.9,624.5h0M420.1,629.6h0M423.3,635.1h0M426.5,641.3h0M429.7,653.7h0M432.9,666.5h0M436.1,697.1h0M438.9,717.6h0M440.3,695.4h0M443.5,661.2h0M446.7,649.7h0M449.9,643.2h0M453.1,637.6h0M456.3,633.1h0M459.5,628.9h0M462.7,624.9h0M465.9,621.3h0M469.1,617.9h0M472.3,614.5h0M475.5,611.6h0M478.7,609.1h0M481.9,606.7h0M485.1,604.3h0M488.3,602.0h0M491.5,599.9h0M494.7,597.8h0M497.9,595.7h0M501.1,593.7h0M504.3,591.8h0M507.5,589.8h0M510.7,587.9h0M513.9,586.0h0M517.1,584.1h0M520.3,582.3h0M523.5,580.4h0M526.7,578.6h0M529.9,576.7h0M533.1,574.7h0M536.3,572.6h0M539.5,570.3h0M542.7,567.8h0M545.9,564.6h0M549.1,561.3h0M552.3,558.2h0M555.5,555.0h0M558.7,551.9h0M561.9,548.8h0M565.1,545.8h0M568.3,543.1h0M571.5,540.6h0M574.7,538.3h0M577.9,536.1h0M581.1,534.0h0M584.3,532.0h0M587.5,530.1h0M590.7,528.2h0M593.9,526.4h0M597.1,524.7h0M600.3,523.1h0M603.5,521.5h0M606.7,519.9h0M609.9,518.4h0M613.1,516.9h0M616.3,515.4h0M619.5,514.0h0M622.7,512.6h0M625.9,511.3h0M629.1,510.0h0M632.3,508.8h0M635.5,507.7h0M638.7,506.6h0M641.9,505.5h0M645.1,504.4h0M648.3,503.3h0M651.5,502.3h0M654.7,501.2h0M657.9,500.2h0M661.1,499.2h0M664.3,498.2h0M667.5,497.3h0M670.7,496.4h0M673.9,495.5h0M677.1,494.7h0M680.3,493.9h0M683.5,493.1h0M686.7,492.4h0M689.9,491.7h0M693.1,491.0h0M696.3,490.3h0M699.5,489.7h0M702.7,489.0h0M705.9,488.4h0M709.1,487.8h0M712.3,487.2h0M715.5,486.6h0M718.7,486.0h0M721.9,485.5h0" stroke="#7030a0" stroke-width="3.2" stroke-linecap="round" fill="none"/>
<polyline points="167.6,496.1 170.8,496.7 174.0,497.3 177.2,498.0 180.4,498.7 183.6,499.5 186.8,500.2 190.0,501.0 193.2,501.8 196.4,502.7 199.6,503.6 202.8,504.5 206.0,505.4 209.2,506.3 212.4,507.3 215.6,508.2 218.8,509.2 222.0,510.1 225.2,511.0 228.4,511.8 231.6,512.7 234.8,513.5 238.0,514.4 241.2,515.3 244.4,516.1 247.6,517.1 250.8,518.0 254.0,519.1 257.2,520.1 260.4,521.3 263.6,522.4 266.8,523.7 270.0,524.9 273.2,526.2 276.4,527.5 279.6,528.8 282.8,530.1 286.0,531.6 289.2,533.0 292.4,534.6 295.6,536.2 298.8,537.9 302.0,539.6 305.2,541.4 308.4,543.1 311.6,544.9 314.8,546.7 318.0,548.5 321.2,550.3 324.4,552.0 327.6,553.8 330.8,555.6 334.0,557.4 337.2,559.2 340.4,561.1 343.6,563.1 346.8,565.1 350.0,567.1 353.2,569.2 356.4,571.2 359.6,573.3 362.8,575.4 366.0,577.5 369.2,579.6 372.4,581.8 375.6,584.1 378.8,586.6 382.0,589.2 385.2,591.9 388.4,594.7 391.6,597.6 394.8,600.5 398.0,603.5 401.2,606.5 404.4,609.6 407.6,612.8 410.8,616.1 414.0,619.6 417.2,623.1 420.4,626.8 423.6,630.7 426.8,635.0 430.0,639.8 433.2,645.2 436.4,651.2 439.6,657.3 442.8,666.2 446.0,682.1 449.2,716.5 450.8,735.5 452.2,723.3 455.4,684.5 458.6,663.4 461.8,657.2 465.0,650.1 468.2,644.3 471.4,639.1 474.6,634.4 477.8,630.3 481.0,626.6 484.2,623.3 487.4,620.3 490.6,617.5 493.8,614.8 497.0,612.2 500.2,609.8 503.4,607.4 506.6,605.1 509.8,602.8 513.0,600.4 516.2,598.0 519.4,595.5 522.6,592.9 525.8,590.1 529.0,587.1 532.2,584.1 535.4,580.9 538.6,577.7 541.8,574.6 545.0,571.4 548.2,568.2 551.4,565.0 554.6,561.8 557.8,558.6 561.0,555.5 564.2,552.3 567.4,549.2 570.6,546.1 573.8,543.0 577.0,540.1 580.2,537.4 583.4,534.9 586.6,532.6 589.8,530.4 593.0,528.4 596.2,526.6 599.4,524.9 602.6,523.2 605.8,521.6 609.0,520.0 612.2,518.4 615.4,516.8 618.6,515.2 621.8,513.5 625.0,511.9 628.2,510.3 631.4,508.7 634.6,507.0 637.8,505.5 641.0,504.1 644.2,502.8 647.4,501.6 650.6,500.5 653.8,499.4 657.0,498.4 660.2,497.3 663.4,496.3 666.6,495.3 669.8,494.4 673.0,493.5 676.2,492.6 679.4,491.8 682.6,491.0 685.8,490.2 689.0,489.5 692.2,488.8 695.4,488.1 698.6,487.5 701.8,486.8 705.0,486.2 708.2,485.6 711.4,485.0 714.6,484.4 717.8,483.8 721.0,483.2 724.2,482.7 727.4,482.1 730.6,481.6 733.8,481.1 737.0,480.6" fill="none" stroke="#00b050" stroke-width="1.3" stroke-linejoin="round"/>
<path d="M167.6,496.1h0M170.8,496.7h0M174.0,497.3h0M177.2,498.0h0M180.4,498.7h0M183.6,499.5h0M186.8,500.2h0M190.0,501.0h0M193.2,501.8h0M196.4,502.7h0M199.6,503.6h0M202.8,504.5h0M206.0,505.4h0M209.2,506.3h0M212.4,507.3h0M215.6,508.2h0M218.8,509.2h0M222.0,510.1h0M225.2,511.0h0M228.4,511.8h0M231.6,512.7h0M234.8,513.5h0M238.0,514.4h0M241.2,515.3h0M244.4,516.1h0M247.6,517.1h0M250.8,518.0h0M254.0,519.1h0M257.2,520.1h0M260.4,521.3h0M263.6,522.4h0M266.8,523.7h0M270.0,524.9h0M273.2,526.2h0M276.4,527.5h0M279.6,528.8h0M282.8,530.1h0M286.0,531.6h0M289.2,533.0h0M292.4,534.6h0M295.6,536.2h0M298.8,537.9h0M302.0,539.6h0M305.2,541.4h0M308.4,543.1h0M311.6,544.9h0M314.8,546.7h0M318.0,548.5h0M321.2,550.3h0M324.4,552.0h0M327.6,553.8h0M330.8,555.6h0M334.0,557.4h0M337.2,559.2h0M340.4,561.1h0M343.6,563.1h0M346.8,565.1h0M350.0,567.1h0M353.2,569.2h0M356.4,571.2h0M359.6,573.3h0M362.8,575.4h0M366.0,577.5h0M369.2,579.6h0M372.4,581.8h0M375.6,584.1h0M378.8,586.6h0M382.0,589.2h0M385.2,591.9h0M388.4,594.7h0M391.6,597.6h0M394.8,600.5h0M398.0,603.5h0M401.2,606.5h0M404.4,609.6h0M407.6,612.8h0M410.8,616.1h0M414.0,619.6h0M417.2,623.1h0M420.4,626.8h0M423.6,630.7h0M426.8,635.0h0M430.0,639.8h0M433.2,645.2h0M436.4,651.2h0M439.6,657.3h0M442.8,666.2h0M446.0,682.1h0M449.2,716.5h0M450.8,735.5h0M452.2,723.3h0M455.4,684.5h0M458.6,663.4h0M461.8,657.2h0M465.0,650.1h0M468.2,644.3h0M471.4,639.1h0M474.6,634.4h0M477.8,630.3h0M481.0,626.6h0M484.2,623.3h0M487.4,620.3h0M490.6,617.5h0M493.8,614.8h0M497.0,612.2h0M500.2,609.8h0M503.4,607.4h0M506.6,605.1h0M509.8,602.8h0M513.0,600.4h0M516.2,598.0h0M519.4,595.5h0M522.6,592.9h0M525.8,590.1h0M529.0,587.1h0M532.2,584.1h0M535.4,580.9h0M538.6,577.7h0M541.8,574.6h0M545.0,571.4h0M548.2,568.2h0M551.4,565.0h0M554.6,561.8h0M557.8,558.6h0M561.0,555.5h0M564.2,552.3h0M567.4,549.2h0M570.6,546.1h0M573.8,543.0h0M577.0,540.1h0M580.2,537.4h0M583.4,534.9h0M586.6,532.6h0M589.8,530.4h0M593.0,528.4h0M596.2,526.6h0M599.4,524.9h0M602.6,523.2h0M605.8,521.6h0M609.0,520.0h0M612.2,518.4h0M615.4,516.8h0M618.6,515.2h0M621.8,513.5h0M625.0,511.9h0M628.2,510.3h0M631.4,508.7h0M634.6,507.0h0M637.8,505.5h0M641.0,504.1h0M644.2,502.8h0M647.4,501.6h0M650.6,500.5h0M653.8,499.4h0M657.0,498.4h0M660.2,497.3h0M663.4,496.3h0M666.6,495.3h0M669.8,494.4h0M673.0,493.5h0M676.2,492.6h0M679.4,491.8h0M682.6,491.0h0M685.8,490.2h0M689.0,489.5h0M692.2,488.8h0M695.4,488.1h0M698.6,487.5h0M701.8,486.8h0M705.0,486.2h0M708.2,485.6h0M711.4,485.0h0M714.6,484.4h0M717.8,483.8h0M721.0,483.2h0M724.2,482.7h0M727.4,482.1h0M730.6,481.6h0M733.8,481.1h0M737.0,480.6h0" stroke="#00b050" stroke-width="3.2" stroke-linecap="round" fill="none"/>
<polyline points="163.8,495.1 167.0,496.1 170.2,497.1 173.4,498.1 176.6,499.0 179.8,500.0 183.0,501.0 186.2,501.9 189.4,502.9 192.6,503.8 195.8,504.8 199.0,505.8 202.2,506.8 205.4,507.8 208.6,508.8 211.8,509.9 215.0,510.9 218.2,512.0 221.4,513.1 224.6,514.2 227.8,515.4 231.0,516.6 234.2,517.8 237.4,519.1 240.6,520.4 243.8,521.8 247.0,523.1 250.2,524.6 253.4,526.0 256.6,527.5 259.8,529.1 263.0,530.7 266.2,532.3 269.4,533.9 272.6,535.6 275.8,537.3 279.0,539.0 282.2,540.8 285.4,542.6 288.6,544.4 291.8,546.2 295.0,548.0 298.2,549.8 301.4,551.6 304.6,553.4 307.8,555.3 311.0,557.1 314.2,558.9 317.4,560.8 320.6,562.6 323.8,564.4 327.0,566.3 330.2,568.2 333.4,570.2 336.6,572.2 339.8,574.2 343.0,576.2 346.2,578.2 349.4,580.2 352.6,582.1 355.8,584.1 359.0,586.1 362.2,588.2 365.4,590.3 368.6,592.3 371.8,594.4 375.0,596.5 378.2,598.6 381.4,600.8 384.6,602.9 387.8,605.2 391.0,607.5 394.2,609.8 397.4,612.3 400.6,614.8 403.8,617.5 407.0,620.1 410.2,622.8 413.4,625.5 416.6,628.3 419.8,631.3 423.0,634.4 426.2,637.8 429.4,641.5 432.6,645.6 435.8,650.0 439.0,655.1 442.2,661.1 445.4,668.4 448.6,678.2 451.8,696.7 455.0,721.9 457.2,723.1 458.6,715.1 461.8,681.2 465.0,667.0 468.2,660.5 471.4,654.5 474.6,648.8 477.8,643.4 481.0,638.0 484.2,632.9 487.4,628.5 490.6,624.4 493.8,620.7 497.0,617.1 500.2,613.7 503.4,610.4 506.6,607.3 509.8,604.4 513.0,601.7 516.2,599.1 519.4,596.4 522.6,593.5 525.8,590.3 529.0,587.0 532.2,583.6 535.4,580.1 538.6,576.4 541.8,572.5 545.0,568.5 548.2,564.3 551.4,560.2 554.6,556.0 557.8,551.8 561.0,547.8 564.2,543.9 567.4,540.2 570.6,536.7 573.8,533.4 577.0,530.4 580.2,527.6 583.4,525.0 586.6,522.6 589.8,520.4 593.0,518.4 596.2,516.6 599.4,514.8 602.6,513.2 605.8,511.6 609.0,510.0 612.2,508.5 615.4,507.1 618.6,505.6 621.8,504.2 625.0,502.9 628.2,501.6 631.4,500.4 634.6,499.2 637.8,498.1 641.0,497.0 644.2,495.9 647.4,494.8 650.6,493.8 653.8,492.7 657.0,491.7 660.2,490.7 663.4,489.8 666.6,488.9 669.8,488.0 673.0,487.1 676.2,486.3 679.4,485.5 682.6,484.8 685.8,484.0 689.0,483.3 692.2,482.7 695.4,482.0 698.6,481.4 701.8,480.9 705.0,480.3 708.2,479.8 711.4,479.3 714.6,478.8 717.8,478.3 721.0,477.8 724.2,477.4 727.4,477.0 730.6,476.6 733.8,476.2 737.0,475.9" fill="none" stroke="#ffc000" stroke-width="1.3" stroke-linejoin="round"/>
<path d="M163.8,495.1h0M167.0,496.1h0M170.2,497.1h0M173.4,498.1h0M176.6,499.0h0M179.8,500.0h0M183.0,501.0h0M186.2,501.9h0M189.4,502.9h0M192.6,503.8h0M195.8,504.8h0M199.0,505.8h0M202.2,506.8h0M205.4,507.8h0M208.6,508.8h0M211.8,509.9h0M215.0,510.9h0M218.2,512.0h0M221.4,513.1h0M224.6,514.2h0M227.8,515.4h0M231.0,516.6h0M234.2,517.8h0M237.4,519.1h0M240.6,520.4h0M243.8,521.8h0M247.0,523.1h0M250.2,524.6h0M253.4,526.0h0M256.6,527.5h0M259.8,529.1h0M263.0,530.7h0M266.2,532.3h0M269.4,533.9h0M272.6,535.6h0M275.8,537.3h0M279.0,539.0h0M282.2,540.8h0M285.4,542.6h0M288.6,544.4h0M291.8,546.2h0M295.0,548.0h0M298.2,549.8h0M301.4,551.6h0M304.6,553.4h0M307.8,555.3h0M311.0,557.1h0M314.2,558.9h0M317.4,560.8h0M320.6,562.6h0M323.8,564.4h0M327.0,566.3h0M330.2,568.2h0M333.4,570.2h0M336.6,572.2h0M339.8,574.2h0M343.0,576.2h0M346.2,578.2h0M349.4,580.2h0M352.6,582.1h0M355.8,584.1h0M359.0,586.1h0M362.2,588.2h0M365.4,590.3h0M368.6,592.3h0M371.8,594.4h0M375.0,596.5h0M378.2,598.6h0M381.4,600.8h0M384.6,602.9h0M387.8,605.2h0M391.0,607.5h0M394.2,609.8h0M397.4,612.3h0M400.6,614.8h0M403.8,617.5h0M407.0,620.1h0M410.2,622.8h0M413.4,625.5h0M416.6,628.3h0M419.8,631.3h0M423.0,634.4h0M426.2,637.8h0M429.4,641.5h0M432.6,645.6h0M435.8,650.0h0M439.0,655.1h0M442.2,661.1h0M445.4,668.4h0M448.6,678.2h0M451.8,696.7h0M455.0,721.9h0M457.2,723.1h0M458.6,715.1h0M461.8,681.2h0M465.0,667.0h0M468.2,660.5h0M471.4,654.5h0M474.6,648.8h0M477.8,643.4h0M481.0,638.0h0M484.2,632.9h0M487.4,628.5h0M490.6,624.4h0M493.8,620.7h0M497.0,617.1h0M500.2,613.7h0M503.4,610.4h0M506.6,607.3h0M509.8,604.4h0M513.0,601.7h0M516.2,599.1h0M519.4,596.4h0M522.6,593.5h0M525.8,590.3h0M529.0,587.0h0M532.2,583.6h0M535.4,580.1h0M538.6,576.4h0M541.8,572.5h0M545.0,568.5h0M548.2,564.3h0M551.4,560.2h0M554.6,556.0h0M557.8,551.8h0M561.0,547.8h0M564.2,543.9h0M567.4,540.2h0M570.6,536.7h0M573.8,533.4h0M577.0,530.4h0M580.2,527.6h0M583.4,525.0h0M586.6,522.6h0M589.8,520.4h0M593.0,518.4h0M596.2,516.6h0M599.4,514.8h0M602.6,513.2h0M605.8,511.6h0M609.0,510.0h0M612.2,508.5h0M615.4,507.1h0M618.6,505.6h0M621.8,504.2h0M625.0,502.9h0M628.2,501.6h0M631.4,500.4h0M634.6,499.2h0M637.8,498.1h0M641.0,497.0h0M644.2,495.9h0M647.4,494.8h0M650.6,493.8h0M653.8,492.7h0M657.0,491.7h0M660.2,490.7h0M663.4,489.8h0M666.6,488.9h0M669.8,488.0h0M673.0,487.1h0M676.2,486.3h0M679.4,485.5h0M682.6,484.8h0M685.8,484.0h0M689.0,483.3h0M692.2,482.7h0M695.4,482.0h0M698.6,481.4h0M701.8,480.9h0M705.0,480.3h0M708.2,479.8h0M711.4,479.3h0M714.6,478.8h0M717.8,478.3h0M721.0,477.8h0M724.2,477.4h0M727.4,477.0h0M730.6,476.6h0M733.8,476.2h0M737.0,475.9h0" stroke="#ffc000" stroke-width="3.2" stroke-linecap="round" fill="none"/>
<polyline points="161.3,491.1 164.5,492.2 167.7,493.2 170.9,494.2 174.1,495.2 177.3,496.2 180.5,497.1 183.7,498.0 186.9,498.9 190.1,499.8 193.3,500.7 196.5,501.6 199.7,502.6 202.9,503.5 206.1,504.5 209.3,505.5 212.5,506.5 215.7,507.5 218.9,508.6 222.1,509.6 225.3,510.6 228.5,511.6 231.7,512.6 234.9,513.6 238.1,514.7 241.3,515.7 244.5,516.8 247.7,517.9 250.9,519.1 254.1,520.3 257.3,521.5 260.5,522.9 263.7,524.2 266.9,525.7 270.1,527.2 273.3,528.8 276.5,530.4 279.7,532.1 282.9,533.9 286.1,535.8 289.3,537.6 292.5,539.4 295.7,541.2 298.9,542.9 302.1,544.7 305.3,546.5 308.5,548.3 311.7,550.2 314.9,552.1 318.1,554.1 321.3,556.2 324.5,558.3 327.7,560.3 330.9,562.4 334.1,564.4 337.3,566.4 340.5,568.4 343.7,570.5 346.9,572.6 350.1,574.8 353.3,577.1 356.5,579.4 359.7,581.9 362.9,584.4 366.1,586.9 369.3,589.5 372.5,592.0 375.7,594.6 378.9,597.2 382.1,599.9 385.3,602.7 388.5,605.5 391.7,608.4 394.9,611.4 398.1,614.5 401.3,617.8 404.5,621.1 407.7,624.3 410.9,627.6 414.1,630.9 417.3,634.2 420.5,637.7 423.7,641.5 426.9,645.6 430.1,650.2 433.3,655.4 436.5,661.4 439.7,668.4 442.9,674.4 446.1,683.6 449.3,704.3 452.5,757.3 453.8,788.3 455.2,756.6 458.4,698.5 461.6,681.5 464.8,676.5 468.0,669.9 471.2,664.0 474.4,658.7 477.6,653.7 480.8,649.3 484.0,645.4 487.2,641.7 490.4,638.3 493.6,635.0 496.8,631.8 500.0,628.9 503.2,626.2 506.4,623.5 509.6,621.0 512.8,618.5 516.0,616.0 519.2,613.4 522.4,610.6 525.6,607.6 528.8,604.4 532.0,600.8 535.2,596.8 538.4,592.5 541.6,588.0 544.8,583.3 548.0,578.5 551.2,573.5 554.4,568.5 557.6,564.1 560.8,559.7 564.0,555.4 567.2,551.1 570.4,547.1 573.6,543.3 576.8,539.8 580.0,536.5 583.2,533.6 586.4,530.9 589.6,528.3 592.8,526.0 596.0,523.9 599.2,521.8 602.4,519.9 605.6,518.1 608.8,516.3 612.0,514.6 615.2,512.9 618.4,511.3 621.6,509.8 624.8,508.2 628.0,506.8 631.2,505.3 634.4,503.9 637.6,502.6 640.8,501.3 644.0,500.0 647.2,498.7 650.4,497.5 653.6,496.3 656.8,495.2 660.0,494.1 663.2,493.1 666.4,492.1 669.6,491.2 672.8,490.3 676.0,489.4 679.2,488.6 682.4,487.9 685.6,487.1 688.8,486.4 692.0,485.7 695.2,485.0 698.4,484.4 701.6,483.8 704.8,483.2 708.0,482.6 711.2,482.0 714.4,481.5 717.6,480.9 720.8,480.4 724.0,479.9 727.2,479.4 730.4,479.0 733.6,478.6" fill="none" stroke="#c00000" stroke-width="1.3" stroke-linejoin="round"/>
<path d="M161.3,491.1h0M164.5,492.2h0M167.7,493.2h0M170.9,494.2h0M174.1,495.2h0M177.3,496.2h0M180.5,497.1h0M183.7,498.0h0M186.9,498.9h0M190.1,499.8h0M193.3,500.7h0M196.5,501.6h0M199.7,502.6h0M202.9,503.5h0M206.1,504.5h0M209.3,505.5h0M212.5,506.5h0M215.7,507.5h0M218.9,508.6h0M222.1,509.6h0M225.3,510.6h0M228.5,511.6h0M231.7,512.6h0M234.9,513.6h0M238.1,514.7h0M241.3,515.7h0M244.5,516.8h0M247.7,517.9h0M250.9,519.1h0M254.1,520.3h0M257.3,521.5h0M260.5,522.9h0M263.7,524.2h0M266.9,525.7h0M270.1,527.2h0M273.3,528.8h0M276.5,530.4h0M279.7,532.1h0M282.9,533.9h0M286.1,535.8h0M289.3,537.6h0M292.5,539.4h0M295.7,541.2h0M298.9,542.9h0M302.1,544.7h0M305.3,546.5h0M308.5,548.3h0M311.7,550.2h0M314.9,552.1h0M318.1,554.1h0M321.3,556.2h0M324.5,558.3h0M327.7,560.3h0M330.9,562.4h0M334.1,564.4h0M337.3,566.4h0M340.5,568.4h0M343.7,570.5h0M346.9,572.6h0M350.1,574.8h0M353.3,577.1h0M356.5,579.4h0M359.7,581.9h0M362.9,584.4h0M366.1,586.9h0M369.3,589.5h0M372.5,592.0h0M375.7,594.6h0M378.9,597.2h0M382.1,599.9h0M385.3,602.7h0M388.5,605.5h0M391.7,608.4h0M394.9,611.4h0M398.1,614.5h0M401.3,617.8h0M404.5,621.1h0M407.7,624.3h0M410.9,627.6h0M414.1,630.9h0M417.3,634.2h0M420.5,637.7h0M423.7,641.5h0M426.9,645.6h0M430.1,650.2h0M433.3,655.4h0M436.5,661.4h0M439.7,668.4h0M442.9,674.4h0M446.1,683.6h0M449.3,704.3h0M452.5,757.3h0M453.8,788.3h0M455.2,756.6h0M458.4,698.5h0M461.6,681.5h0M464.8,676.5h0M468.0,669.9h0M471.2,664.0h0M474.4,658.7h0M477.6,653.7h0M480.8,649.3h0M484.0,645.4h0M487.2,641.7h0M490.4,638.3h0M493.6,635.0h0M496.8,631.8h0M500.0,628.9h0M503.2,626.2h0M506.4,623.5h0M509.6,621.0h0M512.8,618.5h0M516.0,616.0h0M519.2,613.4h0M522.4,610.6h0M525.6,607.6h0M528.8,604.4h0M532.0,600.8h0M535.2,596.8h0M538.4,592.5h0M541.6,588.0h0M544.8,583.3h0M548.0,578.5h0M551.2,573.5h0M554.4,568.5h0M557.6,564.1h0M560.8,559.7h0M564.0,555.4h0M567.2,551.1h0M570.4,547.1h0M573.6,543.3h0M576.8,539.8h0M580.0,536.5h0M583.2,533.6h0M586.4,530.9h0M589.6,528.3h0M592.8,526.0h0M596.0,523.9h0M599.2,521.8h0M602.4,519.9h0M605.6,518.1h0M608.8,516.3h0M612.0,514.6h0M615.2,512.9h0M618.4,511.3h0M621.6,509.8h0M624.8,508.2h0M628.0,506.8h0M631.2,505.3h0M634.4,503.9h0M637.6,502.6h0M640.8,501.3h0M644.0,500.0h0M647.2,498.7h0M650.4,497.5h0M653.6,496.3h0M656.8,495.2h0M660.0,494.1h0M663.2,493.1h0M666.4,492.1h0M669.6,491.2h0M672.8,490.3h0M676.0,489.4h0M679.2,488.6h0M682.4,487.9h0M685.6,487.1h0M688.8,486.4h0M692.0,485.7h0M695.2,485.0h0M698.4,484.4h0M701.6,483.8h0M704.8,483.2h0M708.0,482.6h0M711.2,482.0h0M714.4,481.5h0M717.6,480.9h0M720.8,480.4h0M724.0,479.9h0M727.2,479.4h0M730.4,479.0h0M733.6,478.6h0" stroke="#c00000" stroke-width="3.2" stroke-linecap="round" fill="none"/>
<rect x="106.7" y="441.4" width="647.8" height="348.1" fill="none" stroke="#000" stroke-width="3.8"/>
<rect x="99.3" y="473.7" width="6" height="3.2" fill="#000"/>
<text x="86.4" y="482.9" text-anchor="end" class="t" textLength="50.6" lengthAdjust="spacingAndGlyphs">-0.75</text>
<rect x="99.3" y="536.5" width="6" height="3.2" fill="#000"/>
<text x="86.4" y="545.7" text-anchor="end" class="t" textLength="50.6" lengthAdjust="spacingAndGlyphs">-1.75</text>
<rect x="99.3" y="599.4" width="6" height="3.2" fill="#000"/>
<text x="86.4" y="608.6" text-anchor="end" class="t" textLength="50.6" lengthAdjust="spacingAndGlyphs">-2.75</text>
<rect x="99.3" y="662.2" width="6" height="3.2" fill="#000"/>
<text x="86.4" y="671.4" text-anchor="end" class="t" textLength="50.6" lengthAdjust="spacingAndGlyphs">-3.75</text>
<rect x="99.3" y="725.1" width="6" height="3.2" fill="#000"/>
<text x="86.4" y="734.3" text-anchor="end" class="t" textLength="50.6" lengthAdjust="spacingAndGlyphs">-4.75</text>
<rect x="99.3" y="787.9" width="6" height="3.2" fill="#000"/>
<text x="86.4" y="797.1" text-anchor="end" class="t" textLength="50.6" lengthAdjust="spacingAndGlyphs">-5.75</text>
<rect x="105.0" y="790.0" width="3.4" height="6.2" fill="#000"/>
<text x="107.0" y="825.3" text-anchor="middle" class="t" textLength="50.6" lengthAdjust="spacingAndGlyphs">-1.05</text>
<rect x="219.6" y="790.0" width="3.4" height="6.2" fill="#000"/>
<text x="221.6" y="825.3" text-anchor="middle" class="t" textLength="50.6" lengthAdjust="spacingAndGlyphs">-0.85</text>
<rect x="334.2" y="790.0" width="3.4" height="6.2" fill="#000"/>
<text x="336.2" y="825.3" text-anchor="middle" class="t" textLength="50.6" lengthAdjust="spacingAndGlyphs">-0.65</text>
<rect x="448.8" y="790.0" width="3.4" height="6.2" fill="#000"/>
<text x="450.8" y="825.3" text-anchor="middle" class="t" textLength="50.6" lengthAdjust="spacingAndGlyphs">-0.45</text>
<rect x="563.4" y="790.0" width="3.4" height="6.2" fill="#000"/>
<text x="565.4" y="825.3" text-anchor="middle" class="t" textLength="50.6" lengthAdjust="spacingAndGlyphs">-0.25</text>
<rect x="678.0" y="790.0" width="3.4" height="6.2" fill="#000"/>
<text x="680.0" y="825.3" text-anchor="middle" class="t" textLength="50.6" lengthAdjust="spacingAndGlyphs">-0.05</text>
<text x="363.4" y="848.2" class="t">E (V vs SCE)</text>
<text transform="translate(21.2,694.6) rotate(-90)" class="t">log I (µA/cm<tspan dy="-6.8" style="font-size:15px">2</tspan><tspan dy="6.8">)</tspan></text>
<text x="367.6" y="474.1" class="t" style="font-size:27px" textLength="76.5" lengthAdjust="spacingAndGlyphs">BODB</text>
<rect x="686.7" y="640.0" width="4" height="142.5" fill="#f6f6f6"/>
<rect x="666.4" y="774.4" width="24.3" height="8.1" fill="#f6f6f6"/>
<line x1="540.8" x2="569.0" y1="618.8" y2="618.8" stroke="#3a22f5" stroke-width="1.2"/>
<circle cx="554.8" cy="618.8" r="1.6" fill="#3a22f5"/>
<text x="572.6" y="626.9" class="t">Blank</text>
<line x1="540.8" x2="569.0" y1="649.6" y2="649.6" stroke="#ff0000" stroke-width="1.2"/>
<circle cx="554.8" cy="649.6" r="1.6" fill="#ff0000"/>
<text x="572.6" y="657.7" class="t">0.50 x 10</text>
<rect x="666.3" y="644.1" width="5.4" height="1.4" fill="#222"/>
<text x="672.2" y="648.9" class="s">4</text>
<text x="695.6" y="657.7" class="t" textLength="21.5" lengthAdjust="spacingAndGlyphs">M</text>
<line x1="540.8" x2="569.0" y1="680.4" y2="680.4" stroke="#7030a0" stroke-width="1.2"/>
<circle cx="554.8" cy="680.4" r="1.6" fill="#7030a0"/>
<text x="572.6" y="688.5" class="t">0.75 x 10</text>
<rect x="666.3" y="674.9" width="5.4" height="1.4" fill="#222"/>
<text x="672.2" y="679.7" class="s">4</text>
<text x="695.6" y="688.5" class="t" textLength="21.5" lengthAdjust="spacingAndGlyphs">M</text>
<line x1="540.8" x2="569.0" y1="711.2" y2="711.2" stroke="#00b050" stroke-width="1.2"/>
<circle cx="554.8" cy="711.2" r="1.6" fill="#00b050"/>
<text x="572.6" y="719.3" class="t">2.50 x 10</text>
<rect x="666.3" y="705.7" width="5.4" height="1.4" fill="#222"/>
<text x="672.2" y="710.5" class="s">4</text>
<text x="695.6" y="719.3" class="t" textLength="21.5" lengthAdjust="spacingAndGlyphs">M</text>
<line x1="540.8" x2="569.0" y1="742.0" y2="742.0" stroke="#ffc000" stroke-width="1.2"/>
<circle cx="554.8" cy="742.0" r="1.6" fill="#ffc000"/>
<text x="572.6" y="750.1" class="t">5.00 x 10</text>
<rect x="666.3" y="736.5" width="5.4" height="1.4" fill="#222"/>
<text x="672.2" y="741.3" class="s">4</text>
<text x="695.6" y="750.1" class="t" textLength="21.5" lengthAdjust="spacingAndGlyphs">M</text>
<line x1="540.8" x2="569.0" y1="772.8" y2="772.8" stroke="#c00000" stroke-width="1.2"/>
<circle cx="554.8" cy="772.8" r="1.6" fill="#c00000"/>
<text x="572.6" y="780.9" class="t">7.50 x 10</text>
<rect x="666.3" y="767.3" width="5.4" height="1.4" fill="#222"/>
<text x="672.2" y="772.1" class="s">4</text>
<text x="695.6" y="780.9" class="t" textLength="21.5" lengthAdjust="spacingAndGlyphs">M</text>
<polyline points="118.0,906.0 121.2,906.5 124.4,907.1 127.6,907.6 130.8,908.2 134.0,908.7 137.2,909.2 140.4,909.8 143.6,910.3 146.8,910.8 150.0,911.4 153.2,911.9 156.4,912.5 159.6,913.0 162.8,913.6 166.0,914.1 169.2,914.7 172.4,915.3 175.6,915.9 178.8,916.5 182.0,917.1 185.2,917.7 188.4,918.3 191.6,918.9 194.8,919.5 198.0,920.1 201.2,920.8 204.4,921.4 207.6,922.1 210.8,922.8 214.0,923.5 217.2,924.2 220.4,925.0 223.6,925.7 226.8,926.5 230.0,927.3 233.2,928.2 236.4,929.1 239.6,930.0 242.8,930.9 246.0,931.9 249.2,932.9 252.4,933.9 255.6,935.0 258.8,936.1 262.0,937.2 265.2,938.4 268.4,939.7 271.6,940.9 274.8,942.3 278.0,943.6 281.2,945.0 284.4,946.3 287.6,947.7 290.8,949.1 294.0,950.5 297.2,951.9 300.4,953.3 303.6,954.7 306.8,956.2 310.0,957.7 313.2,959.3 316.4,960.9 319.6,962.6 322.8,964.4 326.0,966.2 329.2,968.2 332.4,970.1 335.6,972.2 338.8,974.3 342.0,976.4 345.2,978.6 348.4,980.8 351.6,983.2 354.8,985.6 358.0,988.1 361.2,990.8 364.4,993.6 367.6,996.5 370.8,999.7 374.0,1003.1 377.2,1006.8 380.4,1010.6 383.6,1014.6 386.8,1018.9 390.0,1023.7 393.2,1029.2 396.4,1035.8 399.6,1043.9 402.8,1053.7 405.9,1075.4 408.9,1122.7 409.1,1207.1 404.7,1060.5 407.3,1056.5 410.5,1052.3 413.7,1048.3 416.9,1044.0 420.1,1037.1 423.3,1031.1 426.5,1025.6 429.7,1020.3 432.9,1015.3 436.1,1010.8 439.3,1006.5 442.5,1002.5 445.7,998.7 448.9,995.0 452.1,991.6 455.3,988.3 458.5,985.2 461.7,982.2 464.9,979.5 468.1,977.0 471.3,974.6 474.5,972.4 477.7,970.2 480.9,968.1 484.1,966.1 487.3,964.1 490.5,962.1 493.7,960.2 496.9,958.3 500.1,956.5 503.3,954.7 506.5,952.9 509.7,951.2 512.9,949.5 516.1,947.9 519.3,946.3 522.5,944.7 525.7,943.3 528.9,941.9 532.1,940.5 535.3,939.3 538.5,938.0 541.7,936.9 544.9,935.8 548.1,934.7 551.3,933.6 554.5,932.6 557.7,931.5 560.9,930.5 564.1,929.5 567.3,928.6 570.5,927.6 573.7,926.7 576.9,925.8 580.1,924.9 583.3,924.1 586.5,923.2 589.7,922.4 592.9,921.6 596.1,920.8 599.3,920.0 602.5,919.2 605.7,918.5 608.9,917.7 612.1,916.9 615.3,916.2 618.5,915.5 621.7,914.8 624.9,914.2 628.1,913.6 631.3,913.1 634.5,912.6 637.7,912.1 640.9,911.6 644.1,911.1 647.3,910.5 650.5,910.0 653.7,909.4 656.9,908.8 660.1,908.3 663.3,907.8 666.5,907.3 669.7,906.8 672.9,906.3 676.1,905.8 679.3,905.3 682.5,904.8 685.7,904.2 688.9,903.6" fill="none" stroke="#3a22f5" stroke-width="1.3" stroke-linejoin="round"/>
<path d="M118.0,906.0h0M121.2,906.5h0M124.4,907.1h0M127.6,907.6h0M130.8,908.2h0M134.0,908.7h0M137.2,909.2h0M140.4,909.8h0M143.6,910.3h0M146.8,910.8h0M150.0,911.4h0M153.2,911.9h0M156.4,912.5h0M159.6,913.0h0M162.8,913.6h0M166.0,914.1h0M169.2,914.7h0M172.4,915.3h0M175.6,915.9h0M178.8,916.5h0M182.0,917.1h0M185.2,917.7h0M188.4,918.3h0M191.6,918.9h0M194.8,919.5h0M198.0,920.1h0M201.2,920.8h0M204.4,921.4h0M207.6,922.1h0M210.8,922.8h0M214.0,923.5h0M217.2,924.2h0M220.4,925.0h0M223.6,925.7h0M226.8,926.5h0M230.0,927.3h0M233.2,928.2h0M236.4,929.1h0M239.6,930.0h0M242.8,930.9h0M246.0,931.9h0M249.2,932.9h0M252.4,933.9h0M255.6,935.0h0M258.8,936.1h0M262.0,937.2h0M265.2,938.4h0M268.4,939.7h0M271.6,940.9h0M274.8,942.3h0M278.0,943.6h0M281.2,945.0h0M284.4,946.3h0M287.6,947.7h0M290.8,949.1h0M294.0,950.5h0M297.2,951.9h0M300.4,953.3h0M303.6,954.7h0M306.8,956.2h0M310.0,957.7h0M313.2,959.3h0M316.4,960.9h0M319.6,962.6h0M322.8,964.4h0M326.0,966.2h0M329.2,968.2h0M332.4,970.1h0M335.6,972.2h0M338.8,974.3h0M342.0,976.4h0M345.2,978.6h0M348.4,980.8h0M351.6,983.2h0M354.8,985.6h0M358.0,988.1h0M361.2,990.8h0M364.4,993.6h0M367.6,996.5h0M370.8,999.7h0M374.0,1003.1h0M377.2,1006.8h0M380.4,1010.6h0M383.6,1014.6h0M386.8,1018.9h0M390.0,1023.7h0M393.2,1029.2h0M396.4,1035.8h0M399.6,1043.9h0M402.8,1053.7h0M405.9,1075.4h0M408.9,1122.7h0M409.1,1207.1h0M404.7,1060.5h0M407.3,1056.5h0M410.5,1052.3h0M413.7,1048.3h0M416.9,1044.0h0M420.1,1037.1h0M423.3,1031.1h0M426.5,1025.6h0M429.7,1020.3h0M432.9,1015.3h0M436.1,1010.8h0M439.3,1006.5h0M442.5,1002.5h0M445.7,998.7h0M448.9,995.0h0M452.1,991.6h0M455.3,988.3h0M458.5,985.2h0M461.7,982.2h0M464.9,979.5h0M468.1,977.0h0M471.3,974.6h0M474.5,972.4h0M477.7,970.2h0M480.9,968.1h0M484.1,966.1h0M487.3,964.1h0M490.5,962.1h0M493.7,960.2h0M496.9,958.3h0M500.1,956.5h0M503.3,954.7h0M506.5,952.9h0M509.7,951.2h0M512.9,949.5h0M516.1,947.9h0M519.3,946.3h0M522.5,944.7h0M525.7,943.3h0M528.9,941.9h0M532.1,940.5h0M535.3,939.3h0M538.5,938.0h0M541.7,936.9h0M544.9,935.8h0M548.1,934.7h0M551.3,933.6h0M554.5,932.6h0M557.7,931.5h0M560.9,930.5h0M564.1,929.5h0M567.3,928.6h0M570.5,927.6h0M573.7,926.7h0M576.9,925.8h0M580.1,924.9h0M583.3,924.1h0M586.5,923.2h0M589.7,922.4h0M592.9,921.6h0M596.1,920.8h0M599.3,920.0h0M602.5,919.2h0M605.7,918.5h0M608.9,917.7h0M612.1,916.9h0M615.3,916.2h0M618.5,915.5h0M621.7,914.8h0M624.9,914.2h0M628.1,913.6h0M631.3,913.1h0M634.5,912.6h0M637.7,912.1h0M640.9,911.6h0M644.1,911.1h0M647.3,910.5h0M650.5,910.0h0M653.7,909.4h0M656.9,908.8h0M660.1,908.3h0M663.3,907.8h0M666.5,907.3h0M669.7,906.8h0M672.9,906.3h0M676.1,905.8h0M679.3,905.3h0M682.5,904.8h0M685.7,904.2h0M688.9,903.6h0" stroke="#3a22f5" stroke-width="3.2" stroke-linecap="round" fill="none"/>
<polyline points="152.6,926.6 155.8,927.2 159.0,927.8 162.2,928.4 165.4,929.0 168.6,929.6 171.8,930.2 175.0,930.8 178.2,931.4 181.4,932.1 184.6,932.7 187.8,933.3 191.0,934.0 194.2,934.6 197.4,935.3 200.6,936.0 203.8,936.7 207.0,937.4 210.2,938.1 213.4,938.9 216.6,939.6 219.8,940.3 223.0,941.1 226.2,941.8 229.4,942.5 232.6,943.2 235.8,944.0 239.0,944.7 242.2,945.5 245.4,946.3 248.6,947.1 251.8,947.9 255.0,948.8 258.2,949.7 261.4,950.6 264.6,951.6 267.8,952.5 271.0,953.5 274.2,954.4 277.4,955.3 280.6,956.2 283.8,957.1 287.0,958.0 290.2,959.0 293.4,960.0 296.6,961.2 299.8,962.3 303.0,963.6 306.2,964.9 309.4,966.3 312.6,967.7 315.8,969.1 319.0,970.6 322.2,972.1 325.4,973.6 328.6,975.2 331.8,976.9 335.0,978.5 338.2,980.2 341.4,982.0 344.6,983.8 347.8,985.6 351.0,987.5 354.2,989.4 357.4,991.4 360.6,993.5 363.8,995.7 367.0,998.0 370.2,1000.4 373.4,1002.9 376.6,1005.5 379.8,1008.1 383.0,1010.7 386.2,1013.2 389.4,1015.8 392.6,1018.5 395.8,1021.3 399.0,1024.4 402.2,1027.6 405.4,1031.0 408.6,1034.5 411.8,1038.4 415.0,1042.4 418.2,1046.9 421.4,1051.7 424.6,1057.1 427.8,1062.8 431.0,1068.6 434.2,1074.7 437.4,1082.2 440.6,1094.2 443.8,1113.5 447.0,1139.4 448.3,1147.5 449.7,1129.2 452.9,1093.9 456.1,1085.2 459.3,1079.1 462.5,1074.1 465.7,1069.4 468.9,1065.1 472.1,1061.0 475.3,1057.1 478.5,1053.4 481.7,1049.8 484.9,1046.3 488.1,1043.0 491.3,1039.9 494.5,1036.9 497.7,1033.9 500.9,1031.0 504.1,1028.1 507.3,1025.2 510.5,1022.3 513.7,1019.5 516.9,1016.7 520.1,1014.0 523.3,1011.3 526.5,1008.7 529.7,1006.1 532.9,1003.5 536.1,1000.9 539.3,998.4 542.5,995.8 545.7,993.3 548.9,990.7 552.1,988.2 555.3,985.7 558.5,983.2 561.7,980.9 564.9,978.6 568.1,976.5 571.3,974.6 574.5,972.9 577.7,971.2 580.9,969.5 584.1,967.9 587.3,966.2 590.5,964.7 593.7,963.1 596.9,961.5 600.1,960.0 603.3,958.5 606.5,957.2 609.7,955.9 612.9,954.6 616.1,953.4 619.3,952.3 622.5,951.2 625.7,950.1 628.9,949.1 632.1,948.1 635.3,947.1 638.5,946.1 641.7,945.1 644.9,944.0 648.1,943.0 651.3,941.9 654.5,940.8 657.7,939.8 660.9,938.8 664.1,937.8 667.3,936.9 670.5,936.1 673.7,935.2 676.9,934.5 680.1,933.7 683.3,933.1 686.5,932.4 689.7,931.8 692.9,931.1 696.1,930.5 699.3,929.9 702.5,929.4 705.7,928.8 708.9,928.2 712.1,927.7 715.3,927.1 718.5,926.6 721.7,926.1 724.9,925.6" fill="none" stroke="#ff0000" stroke-width="1.3" stroke-linejoin="round"/>
<path d="M152.6,926.6h0M155.8,927.2h0M159.0,927.8h0M162.2,928.4h0M165.4,929.0h0M168.6,929.6h0M171.8,930.2h0M175.0,930.8h0M178.2,931.4h0M181.4,932.1h0M184.6,932.7h0M187.8,933.3h0M191.0,934.0h0M194.2,934.6h0M197.4,935.3h0M200.6,936.0h0M203.8,936.7h0M207.0,937.4h0M210.2,938.1h0M213.4,938.9h0M216.6,939.6h0M219.8,940.3h0M223.0,941.1h0M226.2,941.8h0M229.4,942.5h0M232.6,943.2h0M235.8,944.0h0M239.0,944.7h0M242.2,945.5h0M245.4,946.3h0M248.6,947.1h0M251.8,947.9h0M255.0,948.8h0M258.2,949.7h0M261.4,950.6h0M264.6,951.6h0M267.8,952.5h0M271.0,953.5h0M274.2,954.4h0M277.4,955.3h0M280.6,956.2h0M283.8,957.1h0M287.0,958.0h0M290.2,959.0h0M293.4,960.0h0M296.6,961.2h0M299.8,962.3h0M303.0,963.6h0M306.2,964.9h0M309.4,966.3h0M312.6,967.7h0M315.8,969.1h0M319.0,970.6h0M322.2,972.1h0M325.4,973.6h0M328.6,975.2h0M331.8,976.9h0M335.0,978.5h0M338.2,980.2h0M341.4,982.0h0M344.6,983.8h0M347.8,985.6h0M351.0,987.5h0M354.2,989.4h0M357.4,991.4h0M360.6,993.5h0M363.8,995.7h0M367.0,998.0h0M370.2,1000.4h0M373.4,1002.9h0M376.6,1005.5h0M379.8,1008.1h0M383.0,1010.7h0M386.2,1013.2h0M389.4,1015.8h0M392.6,1018.5h0M395.8,1021.3h0M399.0,1024.4h0M402.2,1027.6h0M405.4,1031.0h0M408.6,1034.5h0M411.8,1038.4h0M415.0,1042.4h0M418.2,1046.9h0M421.4,1051.7h0M424.6,1057.1h0M427.8,1062.8h0M431.0,1068.6h0M434.2,1074.7h0M437.4,1082.2h0M440.6,1094.2h0M443.8,1113.5h0M447.0,1139.4h0M448.3,1147.5h0M449.7,1129.2h0M452.9,1093.9h0M456.1,1085.2h0M459.3,1079.1h0M462.5,1074.1h0M465.7,1069.4h0M468.9,1065.1h0M472.1,1061.0h0M475.3,1057.1h0M478.5,1053.4h0M481.7,1049.8h0M484.9,1046.3h0M488.1,1043.0h0M491.3,1039.9h0M494.5,1036.9h0M497.7,1033.9h0M500.9,1031.0h0M504.1,1028.1h0M507.3,1025.2h0M510.5,1022.3h0M513.7,1019.5h0M516.9,1016.7h0M520.1,1014.0h0M523.3,1011.3h0M526.5,1008.7h0M529.7,1006.1h0M532.9,1003.5h0M536.1,1000.9h0M539.3,998.4h0M542.5,995.8h0M545.7,993.3h0M548.9,990.7h0M552.1,988.2h0M555.3,985.7h0M558.5,983.2h0M561.7,980.9h0M564.9,978.6h0M568.1,976.5h0M571.3,974.6h0M574.5,972.9h0M577.7,971.2h0M580.9,969.5h0M584.1,967.9h0M587.3,966.2h0M590.5,964.7h0M593.7,963.1h0M596.9,961.5h0M600.1,960.0h0M603.3,958.5h0M606.5,957.2h0M609.7,955.9h0M612.9,954.6h0M616.1,953.4h0M619.3,952.3h0M622.5,951.2h0M625.7,950.1h0M628.9,949.1h0M632.1,948.1h0M635.3,947.1h0M638.5,946.1h0M641.7,945.1h0M644.9,944.0h0M648.1,943.0h0M651.3,941.9h0M654.5,940.8h0M657.7,939.8h0M660.9,938.8h0M664.1,937.8h0M667.3,936.9h0M670.5,936.1h0M673.7,935.2h0M676.9,934.5h0M680.1,933.7h0M683.3,933.1h0M686.5,932.4h0M689.7,931.8h0M692.9,931.1h0M696.1,930.5h0M699.3,929.9h0M702.5,929.4h0M705.7,928.8h0M708.9,928.2h0M712.1,927.7h0M715.3,927.1h0M718.5,926.6h0M721.7,926.1h0M724.9,925.6h0" stroke="#ff0000" stroke-width="3.2" stroke-linecap="round" fill="none"/>
<polyline points="153.1,928.1 156.3,928.9 159.5,929.7 162.7,930.5 165.9,931.3 169.1,932.0 172.3,932.8 175.5,933.6 178.7,934.4 181.9,935.1 185.1,935.9 188.3,936.7 191.5,937.5 194.7,938.2 197.9,939.0 201.1,939.8 204.3,940.6 207.5,941.4 210.7,942.2 213.9,943.0 217.1,943.8 220.3,944.6 223.5,945.5 226.7,946.3 229.9,947.2 233.1,948.1 236.3,949.0 239.5,949.9 242.7,950.9 245.9,951.8 249.1,952.7 252.3,953.7 255.5,954.6 258.7,955.6 261.9,956.5 265.1,957.5 268.3,958.5 271.5,959.5 274.7,960.5 277.9,961.6 281.1,962.6 284.3,963.8 287.5,964.9 290.7,966.2 293.9,967.5 297.1,968.8 300.3,970.3 303.5,971.8 306.7,973.4 309.9,975.0 313.1,976.7 316.3,978.5 319.5,980.4 322.7,982.3 325.9,984.3 329.1,986.4 332.3,988.5 335.5,990.6 338.7,992.7 341.9,994.9 345.1,997.0 348.3,999.2 351.5,1001.4 354.7,1003.6 357.9,1005.9 361.1,1008.3 364.3,1010.7 367.5,1013.3 370.7,1015.9 373.9,1018.6 377.1,1021.4 380.3,1024.3 383.5,1027.2 386.7,1030.2 389.9,1033.3 393.1,1036.3 396.3,1039.5 399.5,1042.7 402.7,1046.0 405.9,1049.4 409.1,1053.0 412.3,1056.8 415.5,1060.7 418.7,1065.0 421.9,1069.7 425.1,1074.9 428.3,1081.4 431.5,1089.0 434.7,1099.4 437.9,1121.6 439.7,1151.7 441.1,1144.5 444.3,1107.4 447.5,1094.6 450.7,1088.7 453.9,1082.6 457.1,1077.8 460.3,1073.2 463.5,1069.1 466.7,1065.3 469.9,1061.7 473.1,1058.2 476.3,1054.8 479.5,1051.7 482.7,1048.8 485.9,1046.1 489.1,1043.6 492.3,1041.2 495.5,1039.0 498.7,1036.7 501.9,1034.6 505.1,1032.4 508.3,1030.3 511.5,1028.2 514.7,1026.2 517.9,1024.1 521.1,1022.1 524.3,1020.0 527.5,1017.8 530.7,1015.4 533.9,1012.7 537.1,1009.9 540.3,1006.9 543.5,1003.8 546.7,1000.6 549.9,997.2 553.1,993.9 556.3,990.5 559.5,987.0 562.7,983.4 565.9,980.2 569.1,977.6 572.3,975.2 575.5,973.0 578.7,970.9 581.9,968.8 585.1,966.9 588.3,964.9 591.5,963.0 594.7,961.1 597.9,959.2 601.1,957.4 604.3,955.6 607.5,953.9 610.7,952.2 613.9,950.6 617.1,949.1 620.3,947.7 623.5,946.4 626.7,945.2 629.9,944.1 633.1,943.0 636.3,942.1 639.5,941.1 642.7,940.1 645.9,939.1 649.1,938.1 652.3,937.1 655.5,936.2 658.7,935.2 661.9,934.3 665.1,933.4 668.3,932.6 671.5,931.8 674.7,931.1 677.9,930.3 681.1,929.6 684.3,928.9 687.5,928.3 690.7,927.7 693.9,927.1 697.1,926.5 700.3,925.9 703.5,925.3 706.7,924.8 709.9,924.2 713.1,923.7 716.3,923.2 719.5,922.7 722.7,922.3" fill="none" stroke="#7030a0" stroke-width="1.3" stroke-linejoin="round"/>
<path d="M153.1,928.1h0M156.3,928.9h0M159.5,929.7h0M162.7,930.5h0M165.9,931.3h0M169.1,932.0h0M172.3,932.8h0M175.5,933.6h0M178.7,934.4h0M181.9,935.1h0M185.1,935.9h0M188.3,936.7h0M191.5,937.5h0M194.7,938.2h0M197.9,939.0h0M201.1,939.8h0M204.3,940.6h0M207.5,941.4h0M210.7,942.2h0M213.9,943.0h0M217.1,943.8h0M220.3,944.6h0M223.5,945.5h0M226.7,946.3h0M229.9,947.2h0M233.1,948.1h0M236.3,949.0h0M239.5,949.9h0M242.7,950.9h0M245.9,951.8h0M249.1,952.7h0M252.3,953.7h0M255.5,954.6h0M258.7,955.6h0M261.9,956.5h0M265.1,957.5h0M268.3,958.5h0M271.5,959.5h0M274.7,960.5h0M277.9,961.6h0M281.1,962.6h0M284.3,963.8h0M287.5,964.9h0M290.7,966.2h0M293.9,967.5h0M297.1,968.8h0M300.3,970.3h0M303.5,971.8h0M306.7,973.4h0M309.9,975.0h0M313.1,976.7h0M316.3,978.5h0M319.5,980.4h0M322.7,982.3h0M325.9,984.3h0M329.1,986.4h0M332.3,988.5h0M335.5,990.6h0M338.7,992.7h0M341.9,994.9h0M345.1,997.0h0M348.3,999.2h0M351.5,1001.4h0M354.7,1003.6h0M357.9,1005.9h0M361.1,1008.3h0M364.3,1010.7h0M367.5,1013.3h0M370.7,1015.9h0M373.9,1018.6h0M377.1,1021.4h0M380.3,1024.3h0M383.5,1027.2h0M386.7,1030.2h0M389.9,1033.3h0M393.1,1036.3h0M396.3,1039.5h0M399.5,1042.7h0M402.7,1046.0h0M405.9,1049.4h0M409.1,1053.0h0M412.3,1056.8h0M415.5,1060.7h0M418.7,1065.0h0M421.9,1069.7h0M425.1,1074.9h0M428.3,1081.4h0M431.5,1089.0h0M434.7,1099.4h0M437.9,1121.6h0M439.7,1151.7h0M441.1,1144.5h0M444.3,1107.4h0M447.5,1094.6h0M450.7,1088.7h0M453.9,1082.6h0M457.1,1077.8h0M460.3,1073.2h0M463.5,1069.1h0M466.7,1065.3h0M469.9,1061.7h0M473.1,1058.2h0M476.3,1054.8h0M479.5,1051.7h0M482.7,1048.8h0M485.9,1046.1h0M489.1,1043.6h0M492.3,1041.2h0M495.5,1039.0h0M498.7,1036.7h0M501.9,1034.6h0M505.1,1032.4h0M508.3,1030.3h0M511.5,1028.2h0M514.7,1026.2h0M517.9,1024.1h0M521.1,1022.1h0M524.3,1020.0h0M527.5,1017.8h0M530.7,1015.4h0M533.9,1012.7h0M537.1,1009.9h0M540.3,1006.9h0M543.5,1003.8h0M546.7,1000.6h0M549.9,997.2h0M553.1,993.9h0M556.3,990.5h0M559.5,987.0h0M562.7,983.4h0M565.9,980.2h0M569.1,977.6h0M572.3,975.2h0M575.5,973.0h0M578.7,970.9h0M581.9,968.8h0M585.1,966.9h0M588.3,964.9h0M591.5,963.0h0M594.7,961.1h0M597.9,959.2h0M601.1,957.4h0M604.3,955.6h0M607.5,953.9h0M610.7,952.2h0M613.9,950.6h0M617.1,949.1h0M620.3,947.7h0M623.5,946.4h0M626.7,945.2h0M629.9,944.1h0M633.1,943.0h0M636.3,942.1h0M639.5,941.1h0M642.7,940.1h0M645.9,939.1h0M649.1,938.1h0M652.3,937.1h0M655.5,936.2h0M658.7,935.2h0M661.9,934.3h0M665.1,933.4h0M668.3,932.6h0M671.5,931.8h0M674.7,931.1h0M677.9,930.3h0M681.1,929.6h0M684.3,928.9h0M687.5,928.3h0M690.7,927.7h0M693.9,927.1h0M697.1,926.5h0M700.3,925.9h0M703.5,925.3h0M706.7,924.8h0M709.9,924.2h0M713.1,923.7h0M716.3,923.2h0M719.5,922.7h0M722.7,922.3h0" stroke="#7030a0" stroke-width="3.2" stroke-linecap="round" fill="none"/>
<polyline points="162.6,925.3 165.8,926.1 169.0,927.0 172.2,927.8 175.4,928.6 178.6,929.4 181.8,930.1 185.0,930.9 188.2,931.7 191.4,932.4 194.6,933.2 197.8,933.9 201.0,934.6 204.2,935.4 207.4,936.2 210.6,936.9 213.8,937.8 217.0,938.6 220.2,939.5 223.4,940.4 226.6,941.4 229.8,942.4 233.0,943.4 236.2,944.4 239.4,945.4 242.6,946.5 245.8,947.6 249.0,948.7 252.2,949.8 255.4,951.0 258.6,952.1 261.8,953.3 265.0,954.5 268.2,955.7 271.4,956.8 274.6,958.1 277.8,959.3 281.0,960.5 284.2,961.8 287.4,963.1 290.6,964.5 293.8,965.9 297.0,967.3 300.2,968.8 303.4,970.3 306.6,971.9 309.8,973.6 313.0,975.3 316.2,977.1 319.4,979.0 322.6,980.9 325.8,983.0 329.0,985.1 332.2,987.2 335.4,989.4 338.6,991.7 341.8,993.9 345.0,996.2 348.2,998.4 351.4,1000.6 354.6,1002.8 357.8,1005.0 361.0,1007.2 364.2,1009.5 367.4,1011.8 370.6,1014.2 373.8,1016.6 377.0,1019.2 380.2,1021.8 383.4,1024.4 386.6,1027.2 389.8,1029.9 393.0,1032.9 396.2,1035.9 399.4,1039.3 402.6,1043.0 405.8,1046.5 409.0,1049.9 412.2,1053.3 415.4,1056.7 418.6,1060.3 421.8,1064.1 425.0,1068.2 428.2,1072.5 431.4,1077.2 434.6,1082.3 437.8,1087.6 441.0,1092.1 444.2,1099.1 447.4,1110.7 450.6,1127.6 453.8,1162.0 455.0,1190.0 456.4,1164.5 459.6,1117.5 462.8,1105.8 466.0,1099.4 469.2,1093.0 472.4,1087.5 475.6,1082.4 478.8,1077.9 482.0,1073.7 485.2,1069.9 488.4,1066.4 491.6,1063.0 494.8,1059.7 498.0,1056.5 501.2,1053.2 504.4,1050.0 507.6,1046.7 510.8,1043.4 514.0,1040.1 517.2,1036.6 520.4,1033.1 523.6,1029.4 526.8,1025.7 530.0,1021.9 533.2,1018.0 536.4,1014.0 539.6,1009.9 542.8,1005.9 546.0,1002.0 549.2,998.3 552.4,994.7 555.6,991.3 558.8,988.0 562.0,984.9 565.2,982.0 568.4,979.2 571.6,976.6 574.8,974.0 578.0,971.6 581.2,969.2 584.4,966.9 587.6,964.7 590.8,962.5 594.0,960.5 597.2,958.5 600.4,956.6 603.6,954.7 606.8,952.9 610.0,951.2 613.2,949.5 616.4,947.9 619.6,946.3 622.8,944.7 626.0,943.2 629.2,941.7 632.4,940.3 635.6,938.9 638.8,937.6 642.0,936.3 645.2,935.1 648.4,933.9 651.6,932.8 654.8,931.7 658.0,930.6 661.2,929.6 664.4,928.5 667.6,927.6 670.8,926.6 674.0,925.7 677.2,924.9 680.4,924.1 683.6,923.4 686.8,922.7 690.0,922.0 693.2,921.4 696.4,920.8 699.6,920.2 702.8,919.7 706.0,919.1 709.2,918.6 712.4,918.1 715.6,917.7 718.8,917.2 722.0,916.8 725.2,916.3 728.4,915.9 731.6,915.6 734.8,915.2" fill="none" stroke="#00b050" stroke-width="1.3" stroke-linejoin="round"/>
<path d="M162.6,925.3h0M165.8,926.1h0M169.0,927.0h0M172.2,927.8h0M175.4,928.6h0M178.6,929.4h0M181.8,930.1h0M185.0,930.9h0M188.2,931.7h0M191.4,932.4h0M194.6,933.2h0M197.8,933.9h0M201.0,934.6h0M204.2,935.4h0M207.4,936.2h0M210.6,936.9h0M213.8,937.8h0M217.0,938.6h0M220.2,939.5h0M223.4,940.4h0M226.6,941.4h0M229.8,942.4h0M233.0,943.4h0M236.2,944.4h0M239.4,945.4h0M242.6,946.5h0M245.8,947.6h0M249.0,948.7h0M252.2,949.8h0M255.4,951.0h0M258.6,952.1h0M261.8,953.3h0M265.0,954.5h0M268.2,955.7h0M271.4,956.8h0M274.6,958.1h0M277.8,959.3h0M281.0,960.5h0M284.2,961.8h0M287.4,963.1h0M290.6,964.5h0M293.8,965.9h0M297.0,967.3h0M300.2,968.8h0M303.4,970.3h0M306.6,971.9h0M309.8,973.6h0M313.0,975.3h0M316.2,977.1h0M319.4,979.0h0M322.6,980.9h0M325.8,983.0h0M329.0,985.1h0M332.2,987.2h0M335.4,989.4h0M338.6,991.7h0M341.8,993.9h0M345.0,996.2h0M348.2,998.4h0M351.4,1000.6h0M354.6,1002.8h0M357.8,1005.0h0M361.0,1007.2h0M364.2,1009.5h0M367.4,1011.8h0M370.6,1014.2h0M373.8,1016.6h0M377.0,1019.2h0M380.2,1021.8h0M383.4,1024.4h0M386.6,1027.2h0M389.8,1029.9h0M393.0,1032.9h0M396.2,1035.9h0M399.4,1039.3h0M402.6,1043.0h0M405.8,1046.5h0M409.0,1049.9h0M412.2,1053.3h0M415.4,1056.7h0M418.6,1060.3h0M421.8,1064.1h0M425.0,1068.2h0M428.2,1072.5h0M431.4,1077.2h0M434.6,1082.3h0M437.8,1087.6h0M441.0,1092.1h0M444.2,1099.1h0M447.4,1110.7h0M450.6,1127.6h0M453.8,1162.0h0M455.0,1190.0h0M456.4,1164.5h0M459.6,1117.5h0M462.8,1105.8h0M466.0,1099.4h0M469.2,1093.0h0M472.4,1087.5h0M475.6,1082.4h0M478.8,1077.9h0M482.0,1073.7h0M485.2,1069.9h0M488.4,1066.4h0M491.6,1063.0h0M494.8,1059.7h0M498.0,1056.5h0M501.2,1053.2h0M504.4,1050.0h0M507.6,1046.7h0M510.8,1043.4h0M514.0,1040.1h0M517.2,1036.6h0M520.4,1033.1h0M523.6,1029.4h0M526.8,1025.7h0M530.0,1021.9h0M533.2,1018.0h0M536.4,1014.0h0M539.6,1009.9h0M542.8,1005.9h0M546.0,1002.0h0M549.2,998.3h0M552.4,994.7h0M555.6,991.3h0M558.8,988.0h0M562.0,984.9h0M565.2,982.0h0M568.4,979.2h0M571.6,976.6h0M574.8,974.0h0M578.0,971.6h0M581.2,969.2h0M584.4,966.9h0M587.6,964.7h0M590.8,962.5h0M594.0,960.5h0M597.2,958.5h0M600.4,956.6h0M603.6,954.7h0M606.8,952.9h0M610.0,951.2h0M613.2,949.5h0M616.4,947.9h0M619.6,946.3h0M622.8,944.7h0M626.0,943.2h0M629.2,941.7h0M632.4,940.3h0M635.6,938.9h0M638.8,937.6h0M642.0,936.3h0M645.2,935.1h0M648.4,933.9h0M651.6,932.8h0M654.8,931.7h0M658.0,930.6h0M661.2,929.6h0M664.4,928.5h0M667.6,927.6h0M670.8,926.6h0M674.0,925.7h0M677.2,924.9h0M680.4,924.1h0M683.6,923.4h0M686.8,922.7h0M690.0,922.0h0M693.2,921.4h0M696.4,920.8h0M699.6,920.2h0M702.8,919.7h0M706.0,919.1h0M709.2,918.6h0M712.4,918.1h0M715.6,917.7h0M718.8,917.2h0M722.0,916.8h0M725.2,916.3h0M728.4,915.9h0M731.6,915.6h0M734.8,915.2h0" stroke="#00b050" stroke-width="3.2" stroke-linecap="round" fill="none"/>
<polyline points="161.3,928.1 164.5,928.9 167.7,929.7 170.9,930.6 174.1,931.4 177.3,932.2 180.5,933.0 183.7,933.8 186.9,934.6 190.1,935.4 193.3,936.2 196.5,937.0 199.7,937.8 202.9,938.6 206.1,939.5 209.3,940.3 212.5,941.2 215.7,942.0 218.9,942.9 222.1,943.8 225.3,944.8 228.5,945.8 231.7,946.8 234.9,947.8 238.1,948.9 241.3,950.1 244.5,951.3 247.7,952.5 250.9,953.7 254.1,955.0 257.3,956.4 260.5,957.7 263.7,959.1 266.9,960.5 270.1,961.9 273.3,963.3 276.5,964.7 279.7,966.2 282.9,967.8 286.1,969.3 289.3,971.0 292.5,972.7 295.7,974.4 298.9,976.3 302.1,978.2 305.3,980.1 308.5,982.1 311.7,984.1 314.9,986.2 318.1,988.3 321.3,990.5 324.5,992.7 327.7,994.9 330.9,997.2 334.1,999.5 337.3,1001.8 340.5,1004.1 343.7,1006.3 346.9,1008.6 350.1,1010.9 353.3,1013.2 356.5,1015.4 359.7,1017.7 362.9,1019.9 366.1,1022.1 369.3,1024.3 372.5,1026.6 375.7,1028.9 378.9,1031.4 382.1,1034.0 385.3,1036.8 388.5,1039.6 391.7,1042.4 394.9,1045.4 398.1,1048.3 401.3,1051.2 404.5,1054.2 407.7,1057.1 410.9,1060.1 414.1,1063.1 417.3,1066.2 420.5,1069.5 423.7,1072.9 426.9,1076.7 430.1,1080.8 433.3,1085.4 436.5,1090.4 439.7,1095.7 442.9,1101.6 446.1,1109.2 449.3,1117.8 452.5,1136.1 455.7,1174.4 457.2,1183.7 458.6,1163.8 461.8,1126.2 465.0,1111.0 468.2,1103.4 471.4,1097.0 474.6,1090.7 477.8,1085.0 481.0,1080.1 484.2,1075.7 487.4,1071.5 490.6,1067.7 493.8,1064.1 497.0,1060.7 500.2,1057.3 503.4,1054.0 506.6,1050.7 509.8,1047.5 513.0,1044.2 516.2,1040.8 519.4,1037.4 522.6,1033.8 525.8,1030.2 529.0,1026.5 532.2,1022.7 535.4,1018.9 538.6,1015.1 541.8,1011.3 545.0,1007.5 548.2,1003.6 551.4,999.8 554.6,996.1 557.8,992.5 561.0,989.0 564.2,985.6 567.4,982.3 570.6,979.1 573.8,976.0 577.0,973.0 580.2,970.2 583.4,967.4 586.6,964.8 589.8,962.3 593.0,959.9 596.2,957.5 599.4,955.3 602.6,953.1 605.8,951.1 609.0,949.3 612.2,947.5 615.4,945.8 618.6,944.1 621.8,942.6 625.0,941.1 628.2,939.7 631.4,938.3 634.6,937.0 637.8,935.7 641.0,934.5 644.2,933.3 647.4,932.2 650.6,931.1 653.8,930.0 657.0,929.0 660.2,928.0 663.4,927.0 666.6,926.1 669.8,925.2 673.0,924.3 676.2,923.5 679.4,922.8 682.6,922.0 685.8,921.3 689.0,920.7 692.2,920.0 695.4,919.4 698.6,918.8 701.8,918.2 705.0,917.7 708.2,917.2 711.4,916.7 714.6,916.2 717.8,915.8 721.0,915.3 724.2,914.9 727.4,914.5 730.6,914.1 733.8,913.8" fill="none" stroke="#ffc000" stroke-width="1.3" stroke-linejoin="round"/>
<path d="M161.3,928.1h0M164.5,928.9h0M167.7,929.7h0M170.9,930.6h0M174.1,931.4h0M177.3,932.2h0M180.5,933.0h0M183.7,933.8h0M186.9,934.6h0M190.1,935.4h0M193.3,936.2h0M196.5,937.0h0M199.7,937.8h0M202.9,938.6h0M206.1,939.5h0M209.3,940.3h0M212.5,941.2h0M215.7,942.0h0M218.9,942.9h0M222.1,943.8h0M225.3,944.8h0M228.5,945.8h0M231.7,946.8h0M234.9,947.8h0M238.1,948.9h0M241.3,950.1h0M244.5,951.3h0M247.7,952.5h0M250.9,953.7h0M254.1,955.0h0M257.3,956.4h0M260.5,957.7h0M263.7,959.1h0M266.9,960.5h0M270.1,961.9h0M273.3,963.3h0M276.5,964.7h0M279.7,966.2h0M282.9,967.8h0M286.1,969.3h0M289.3,971.0h0M292.5,972.7h0M295.7,974.4h0M298.9,976.3h0M302.1,978.2h0M305.3,980.1h0M308.5,982.1h0M311.7,984.1h0M314.9,986.2h0M318.1,988.3h0M321.3,990.5h0M324.5,992.7h0M327.7,994.9h0M330.9,997.2h0M334.1,999.5h0M337.3,1001.8h0M340.5,1004.1h0M343.7,1006.3h0M346.9,1008.6h0M350.1,1010.9h0M353.3,1013.2h0M356.5,1015.4h0M359.7,1017.7h0M362.9,1019.9h0M366.1,1022.1h0M369.3,1024.3h0M372.5,1026.6h0M375.7,1028.9h0M378.9,1031.4h0M382.1,1034.0h0M385.3,1036.8h0M388.5,1039.6h0M391.7,1042.4h0M394.9,1045.4h0M398.1,1048.3h0M401.3,1051.2h0M404.5,1054.2h0M407.7,1057.1h0M410.9,1060.1h0M414.1,1063.1h0M417.3,1066.2h0M420.5,1069.5h0M423.7,1072.9h0M426.9,1076.7h0M430.1,1080.8h0M433.3,1085.4h0M436.5,1090.4h0M439.7,1095.7h0M442.9,1101.6h0M446.1,1109.2h0M449.3,1117.8h0M452.5,1136.1h0M455.7,1174.4h0M457.2,1183.7h0M458.6,1163.8h0M461.8,1126.2h0M465.0,1111.0h0M468.2,1103.4h0M471.4,1097.0h0M474.6,1090.7h0M477.8,1085.0h0M481.0,1080.1h0M484.2,1075.7h0M487.4,1071.5h0M490.6,1067.7h0M493.8,1064.1h0M497.0,1060.7h0M500.2,1057.3h0M503.4,1054.0h0M506.6,1050.7h0M509.8,1047.5h0M513.0,1044.2h0M516.2,1040.8h0M519.4,1037.4h0M522.6,1033.8h0M525.8,1030.2h0M529.0,1026.5h0M532.2,1022.7h0M535.4,1018.9h0M538.6,1015.1h0M541.8,1011.3h0M545.0,1007.5h0M548.2,1003.6h0M551.4,999.8h0M554.6,996.1h0M557.8,992.5h0M561.0,989.0h0M564.2,985.6h0M567.4,982.3h0M570.6,979.1h0M573.8,976.0h0M577.0,973.0h0M580.2,970.2h0M583.4,967.4h0M586.6,964.8h0M589.8,962.3h0M593.0,959.9h0M596.2,957.5h0M599.4,955.3h0M602.6,953.1h0M605.8,951.1h0M609.0,949.3h0M612.2,947.5h0M615.4,945.8h0M618.6,944.1h0M621.8,942.6h0M625.0,941.1h0M628.2,939.7h0M631.4,938.3h0M634.6,937.0h0M637.8,935.7h0M641.0,934.5h0M644.2,933.3h0M647.4,932.2h0M650.6,931.1h0M653.8,930.0h0M657.0,929.0h0M660.2,928.0h0M663.4,927.0h0M666.6,926.1h0M669.8,925.2h0M673.0,924.3h0M676.2,923.5h0M679.4,922.8h0M682.6,922.0h0M685.8,921.3h0M689.0,920.7h0M692.2,920.0h0M695.4,919.4h0M698.6,918.8h0M701.8,918.2h0M705.0,917.7h0M708.2,917.2h0M711.4,916.7h0M714.6,916.2h0M717.8,915.8h0M721.0,915.3h0M724.2,914.9h0M727.4,914.5h0M730.6,914.1h0M733.8,913.8h0" stroke="#ffc000" stroke-width="3.2" stroke-linecap="round" fill="none"/>
<polyline points="153.8,927.8 157.0,928.8 160.2,929.9 163.4,930.9 166.6,932.0 169.8,933.0 173.0,934.1 176.2,935.2 179.4,936.3 182.6,937.4 185.8,938.6 189.0,939.7 192.2,940.8 195.4,941.9 198.6,943.0 201.8,944.2 205.0,945.3 208.2,946.4 211.4,947.5 214.6,948.6 217.8,949.7 221.0,950.9 224.2,952.0 227.4,953.2 230.6,954.4 233.8,955.7 237.0,957.0 240.2,958.3 243.4,959.6 246.6,961.0 249.8,962.4 253.0,963.9 256.2,965.4 259.4,966.9 262.6,968.5 265.8,970.1 269.0,971.7 272.2,973.3 275.4,975.0 278.6,976.6 281.8,978.3 285.0,980.0 288.2,981.8 291.4,983.7 294.6,985.7 297.8,987.8 301.0,990.0 304.2,992.3 307.4,994.5 310.6,996.7 313.8,998.8 317.0,1000.8 320.2,1002.8 323.4,1004.7 326.6,1006.7 329.8,1008.7 333.0,1010.8 336.2,1013.0 339.4,1015.3 342.6,1017.6 345.8,1020.1 349.0,1022.7 352.2,1025.4 355.4,1028.1 358.6,1030.8 361.8,1033.5 365.0,1036.2 368.2,1039.0 371.4,1041.7 374.6,1044.4 377.8,1047.2 381.0,1049.9 384.2,1052.7 387.4,1055.6 390.6,1058.5 393.8,1061.4 397.0,1064.3 400.2,1067.3 403.4,1070.4 406.6,1073.5 409.8,1076.8 413.0,1080.3 416.2,1084.0 419.4,1088.1 422.6,1092.7 425.8,1097.7 429.0,1103.8 432.2,1110.5 435.4,1117.8 438.6,1126.0 441.8,1138.4 445.7,1176.1 449.1,1176.9 451.6,1147.1 454.2,1132.0 457.4,1122.3 460.6,1115.3 463.8,1110.2 467.0,1105.7 470.2,1101.3 473.4,1097.0 476.6,1093.4 479.8,1090.0 483.0,1086.8 486.2,1083.7 489.4,1080.8 492.6,1078.1 495.8,1075.6 499.0,1073.2 502.2,1070.8 505.4,1068.4 508.6,1066.0 511.8,1063.6 515.0,1060.9 518.2,1058.1 521.4,1055.1 524.6,1051.9 527.8,1048.5 531.0,1044.8 534.2,1040.8 537.4,1036.3 540.6,1031.5 543.8,1026.5 547.0,1021.5 550.2,1016.4 553.4,1011.2 556.6,1006.4 559.8,1001.8 563.0,997.5 566.2,993.5 569.4,989.7 572.6,985.9 575.8,982.1 579.0,978.4 582.2,975.0 585.4,971.9 588.6,969.0 591.8,966.4 595.0,964.1 598.2,961.9 601.4,959.9 604.6,958.1 607.8,956.3 611.0,954.6 614.2,952.9 617.4,951.3 620.6,949.6 623.8,948.0 627.0,946.3 630.2,944.6 633.4,942.9 636.6,941.1 639.8,939.6 643.0,938.1 646.2,936.8 649.4,935.6 652.6,934.5 655.8,933.4 659.0,932.4 662.2,931.4 665.4,930.4 668.6,929.5 671.8,928.6 675.0,927.7 678.2,926.9 681.4,926.1 684.6,925.3 687.8,924.6 691.0,923.9 694.2,923.2 697.4,922.6 700.6,922.0 703.8,921.4 707.0,920.9 710.2,920.3 713.4,919.8 716.6,919.3 719.8,918.9 723.0,918.4 726.2,918.0 729.4,917.5 732.6,917.1 735.8,916.8" fill="none" stroke="#c00000" stroke-width="1.3" stroke-linejoin="round"/>
<path d="M153.8,927.8h0M157.0,928.8h0M160.2,929.9h0M163.4,930.9h0M166.6,932.0h0M169.8,933.0h0M173.0,934.1h0M176.2,935.2h0M179.4,936.3h0M182.6,937.4h0M185.8,938.6h0M189.0,939.7h0M192.2,940.8h0M195.4,941.9h0M198.6,943.0h0M201.8,944.2h0M205.0,945.3h0M208.2,946.4h0M211.4,947.5h0M214.6,948.6h0M217.8,949.7h0M221.0,950.9h0M224.2,952.0h0M227.4,953.2h0M230.6,954.4h0M233.8,955.7h0M237.0,957.0h0M240.2,958.3h0M243.4,959.6h0M246.6,961.0h0M249.8,962.4h0M253.0,963.9h0M256.2,965.4h0M259.4,966.9h0M262.6,968.5h0M265.8,970.1h0M269.0,971.7h0M272.2,973.3h0M275.4,975.0h0M278.6,976.6h0M281.8,978.3h0M285.0,980.0h0M288.2,981.8h0M291.4,983.7h0M294.6,985.7h0M297.8,987.8h0M301.0,990.0h0M304.2,992.3h0M307.4,994.5h0M310.6,996.7h0M313.8,998.8h0M317.0,1000.8h0M320.2,1002.8h0M323.4,1004.7h0M326.6,1006.7h0M329.8,1008.7h0M333.0,1010.8h0M336.2,1013.0h0M339.4,1015.3h0M342.6,1017.6h0M345.8,1020.1h0M349.0,1022.7h0M352.2,1025.4h0M355.4,1028.1h0M358.6,1030.8h0M361.8,1033.5h0M365.0,1036.2h0M368.2,1039.0h0M371.4,1041.7h0M374.6,1044.4h0M377.8,1047.2h0M381.0,1049.9h0M384.2,1052.7h0M387.4,1055.6h0M390.6,1058.5h0M393.8,1061.4h0M397.0,1064.3h0M400.2,1067.3h0M403.4,1070.4h0M406.6,1073.5h0M409.8,1076.8h0M413.0,1080.3h0M416.2,1084.0h0M419.4,1088.1h0M422.6,1092.7h0M425.8,1097.7h0M429.0,1103.8h0M432.2,1110.5h0M435.4,1117.8h0M438.6,1126.0h0M441.8,1138.4h0M445.7,1176.1h0M449.1,1176.9h0M451.6,1147.1h0M454.2,1132.0h0M457.4,1122.3h0M460.6,1115.3h0M463.8,1110.2h0M467.0,1105.7h0M470.2,1101.3h0M473.4,1097.0h0M476.6,1093.4h0M479.8,1090.0h0M483.0,1086.8h0M486.2,1083.7h0M489.4,1080.8h0M492.6,1078.1h0M495.8,1075.6h0M499.0,1073.2h0M502.2,1070.8h0M505.4,1068.4h0M508.6,1066.0h0M511.8,1063.6h0M515.0,1060.9h0M518.2,1058.1h0M521.4,1055.1h0M524.6,1051.9h0M527.8,1048.5h0M531.0,1044.8h0M534.2,1040.8h0M537.4,1036.3h0M540.6,1031.5h0M543.8,1026.5h0M547.0,1021.5h0M550.2,1016.4h0M553.4,1011.2h0M556.6,1006.4h0M559.8,1001.8h0M563.0,997.5h0M566.2,993.5h0M569.4,989.7h0M572.6,985.9h0M575.8,982.1h0M579.0,978.4h0M582.2,975.0h0M585.4,971.9h0M588.6,969.0h0M591.8,966.4h0M595.0,964.1h0M598.2,961.9h0M601.4,959.9h0M604.6,958.1h0M607.8,956.3h0M611.0,954.6h0M614.2,952.9h0M617.4,951.3h0M620.6,949.6h0M623.8,948.0h0M627.0,946.3h0M630.2,944.6h0M633.4,942.9h0M636.6,941.1h0M639.8,939.6h0M643.0,938.1h0M646.2,936.8h0M649.4,935.6h0M652.6,934.5h0M655.8,933.4h0M659.0,932.4h0M662.2,931.4h0M665.4,930.4h0M668.6,929.5h0M671.8,928.6h0M675.0,927.7h0M678.2,926.9h0M681.4,926.1h0M684.6,925.3h0M687.8,924.6h0M691.0,923.9h0M694.2,923.2h0M697.4,922.6h0M700.6,922.0h0M703.8,921.4h0M707.0,920.9h0M710.2,920.3h0M713.4,919.8h0M716.6,919.3h0M719.8,918.9h0M723.0,918.4h0M726.2,918.0h0M729.4,917.5h0M732.6,917.1h0M735.8,916.8h0" stroke="#c00000" stroke-width="3.2" stroke-linecap="round" fill="none"/>
<rect x="106.7" y="879.4" width="647.8" height="348.1" fill="none" stroke="#000" stroke-width="3.8"/>
<rect x="99.3" y="911.7" width="6" height="3.2" fill="#000"/>
<text x="86.4" y="920.9" text-anchor="end" class="t" textLength="50.6" lengthAdjust="spacingAndGlyphs">-0.75</text>
<rect x="99.3" y="974.5" width="6" height="3.2" fill="#000"/>
<text x="86.4" y="983.7" text-anchor="end" class="t" textLength="50.6" lengthAdjust="spacingAndGlyphs">-1.75</text>
<rect x="99.3" y="1037.4" width="6" height="3.2" fill="#000"/>
<text x="86.4" y="1046.6" text-anchor="end" class="t" textLength="50.6" lengthAdjust="spacingAndGlyphs">-2.75</text>
<rect x="99.3" y="1100.2" width="6" height="3.2" fill="#000"/>
<text x="86.4" y="1109.4" text-anchor="end" class="t" textLength="50.6" lengthAdjust="spacingAndGlyphs">-3.75</text>
<rect x="99.3" y="1163.1" width="6" height="3.2" fill="#000"/>
<text x="86.4" y="1172.3" text-anchor="end" class="t" textLength="50.6" lengthAdjust="spacingAndGlyphs">-4.75</text>
<rect x="99.3" y="1225.9" width="6" height="3.2" fill="#000"/>
<text x="86.4" y="1235.1" text-anchor="end" class="t" textLength="50.6" lengthAdjust="spacingAndGlyphs">-5.75</text>
<rect x="105.0" y="1228.0" width="3.4" height="6.2" fill="#000"/>
<text x="107.0" y="1263.3" text-anchor="middle" class="t" textLength="50.6" lengthAdjust="spacingAndGlyphs">-1.05</text>
<rect x="219.6" y="1228.0" width="3.4" height="6.2" fill="#000"/>
<text x="221.6" y="1263.3" text-anchor="middle" class="t" textLength="50.6" lengthAdjust="spacingAndGlyphs">-0.85</text>
<rect x="334.2" y="1228.0" width="3.4" height="6.2" fill="#000"/>
<text x="336.2" y="1263.3" text-anchor="middle" class="t" textLength="50.6" lengthAdjust="spacingAndGlyphs">-0.65</text>
<rect x="448.8" y="1228.0" width="3.4" height="6.2" fill="#000"/>
<text x="450.8" y="1263.3" text-anchor="middle" class="t" textLength="50.6" lengthAdjust="spacingAndGlyphs">-0.45</text>
<rect x="563.4" y="1228.0" width="3.4" height="6.2" fill="#000"/>
<text x="565.4" y="1263.3" text-anchor="middle" class="t" textLength="50.6" lengthAdjust="spacingAndGlyphs">-0.25</text>
<rect x="678.0" y="1228.0" width="3.4" height="6.2" fill="#000"/>
<text x="680.0" y="1263.3" text-anchor="middle" class="t" textLength="50.6" lengthAdjust="spacingAndGlyphs">-0.05</text>
<text x="363.4" y="1286.2" class="t">E (V vs SCE)</text>
<text transform="translate(21.2,1132.6) rotate(-90)" class="t">log I (µA/cm<tspan dy="-6.8" style="font-size:15px">2</tspan><tspan dy="6.8">)</tspan></text>
<text x="367.6" y="912.1" class="t" style="font-size:27px" textLength="77.4" lengthAdjust="spacingAndGlyphs">DODB</text>
<rect x="685.3" y="1076.8" width="4" height="142.5" fill="#f6f6f6"/>
<rect x="665.0" y="1211.2" width="24.3" height="8.1" fill="#f6f6f6"/>
<line x1="539.4" x2="567.6" y1="1055.6" y2="1055.6" stroke="#3a22f5" stroke-width="1.2"/>
<circle cx="553.4" cy="1055.6" r="1.6" fill="#3a22f5"/>
<text x="571.2" y="1063.7" class="t">Blank</text>
<line x1="539.4" x2="567.6" y1="1086.4" y2="1086.4" stroke="#ff0000" stroke-width="1.2"/>
<circle cx="553.4" cy="1086.4" r="1.6" fill="#ff0000"/>
<text x="571.2" y="1094.5" class="t">0.50 x 10</text>
<rect x="664.9" y="1080.9" width="5.4" height="1.4" fill="#222"/>
<text x="670.8" y="1085.7" class="s">4</text>
<text x="694.2" y="1094.5" class="t" textLength="21.5" lengthAdjust="spacingAndGlyphs">M</text>
<line x1="539.4" x2="567.6" y1="1117.2" y2="1117.2" stroke="#7030a0" stroke-width="1.2"/>
<circle cx="553.4" cy="1117.2" r="1.6" fill="#7030a0"/>
<text x="571.2" y="1125.3" class="t">0.75 x 10</text>
<rect x="664.9" y="1111.7" width="5.4" height="1.4" fill="#222"/>
<text x="670.8" y="1116.5" class="s">4</text>
<text x="694.2" y="1125.3" class="t" textLength="21.5" lengthAdjust="spacingAndGlyphs">M</text>
<line x1="539.4" x2="567.6" y1="1148.0" y2="1148.0" stroke="#00b050" stroke-width="1.2"/>
<circle cx="553.4" cy="1148.0" r="1.6" fill="#00b050"/>
<text x="571.2" y="1156.1" class="t">2.50 x 10</text>
<rect x="664.9" y="1142.5" width="5.4" height="1.4" fill="#222"/>
<text x="670.8" y="1147.3" class="s">4</text>
<text x="694.2" y="1156.1" class="t" textLength="21.5" lengthAdjust="spacingAndGlyphs">M</text>
<line x1="539.4" x2="567.6" y1="1178.8" y2="1178.8" stroke="#ffc000" stroke-width="1.2"/>
<circle cx="553.4" cy="1178.8" r="1.6" fill="#ffc000"/>
<text x="571.2" y="1186.9" class="t">5.00 x 10</text>
<rect x="664.9" y="1173.3" width="5.4" height="1.4" fill="#222"/>
<text x="670.8" y="1178.1" class="s">4</text>
<text x="694.2" y="1186.9" class="t" textLength="21.5" lengthAdjust="spacingAndGlyphs">M</text>
<line x1="539.4" x2="567.6" y1="1209.6" y2="1209.6" stroke="#c00000" stroke-width="1.2"/>
<circle cx="553.4" cy="1209.6" r="1.6" fill="#c00000"/>
<text x="571.2" y="1217.7" class="t">7.50 x 10</text>
<rect x="664.9" y="1204.1" width="5.4" height="1.4" fill="#222"/>
<text x="670.8" y="1208.9" class="s">4</text>
<text x="694.2" y="1217.7" class="t" textLength="21.5" lengthAdjust="spacingAndGlyphs">M</text>
</svg>
</body></html>
